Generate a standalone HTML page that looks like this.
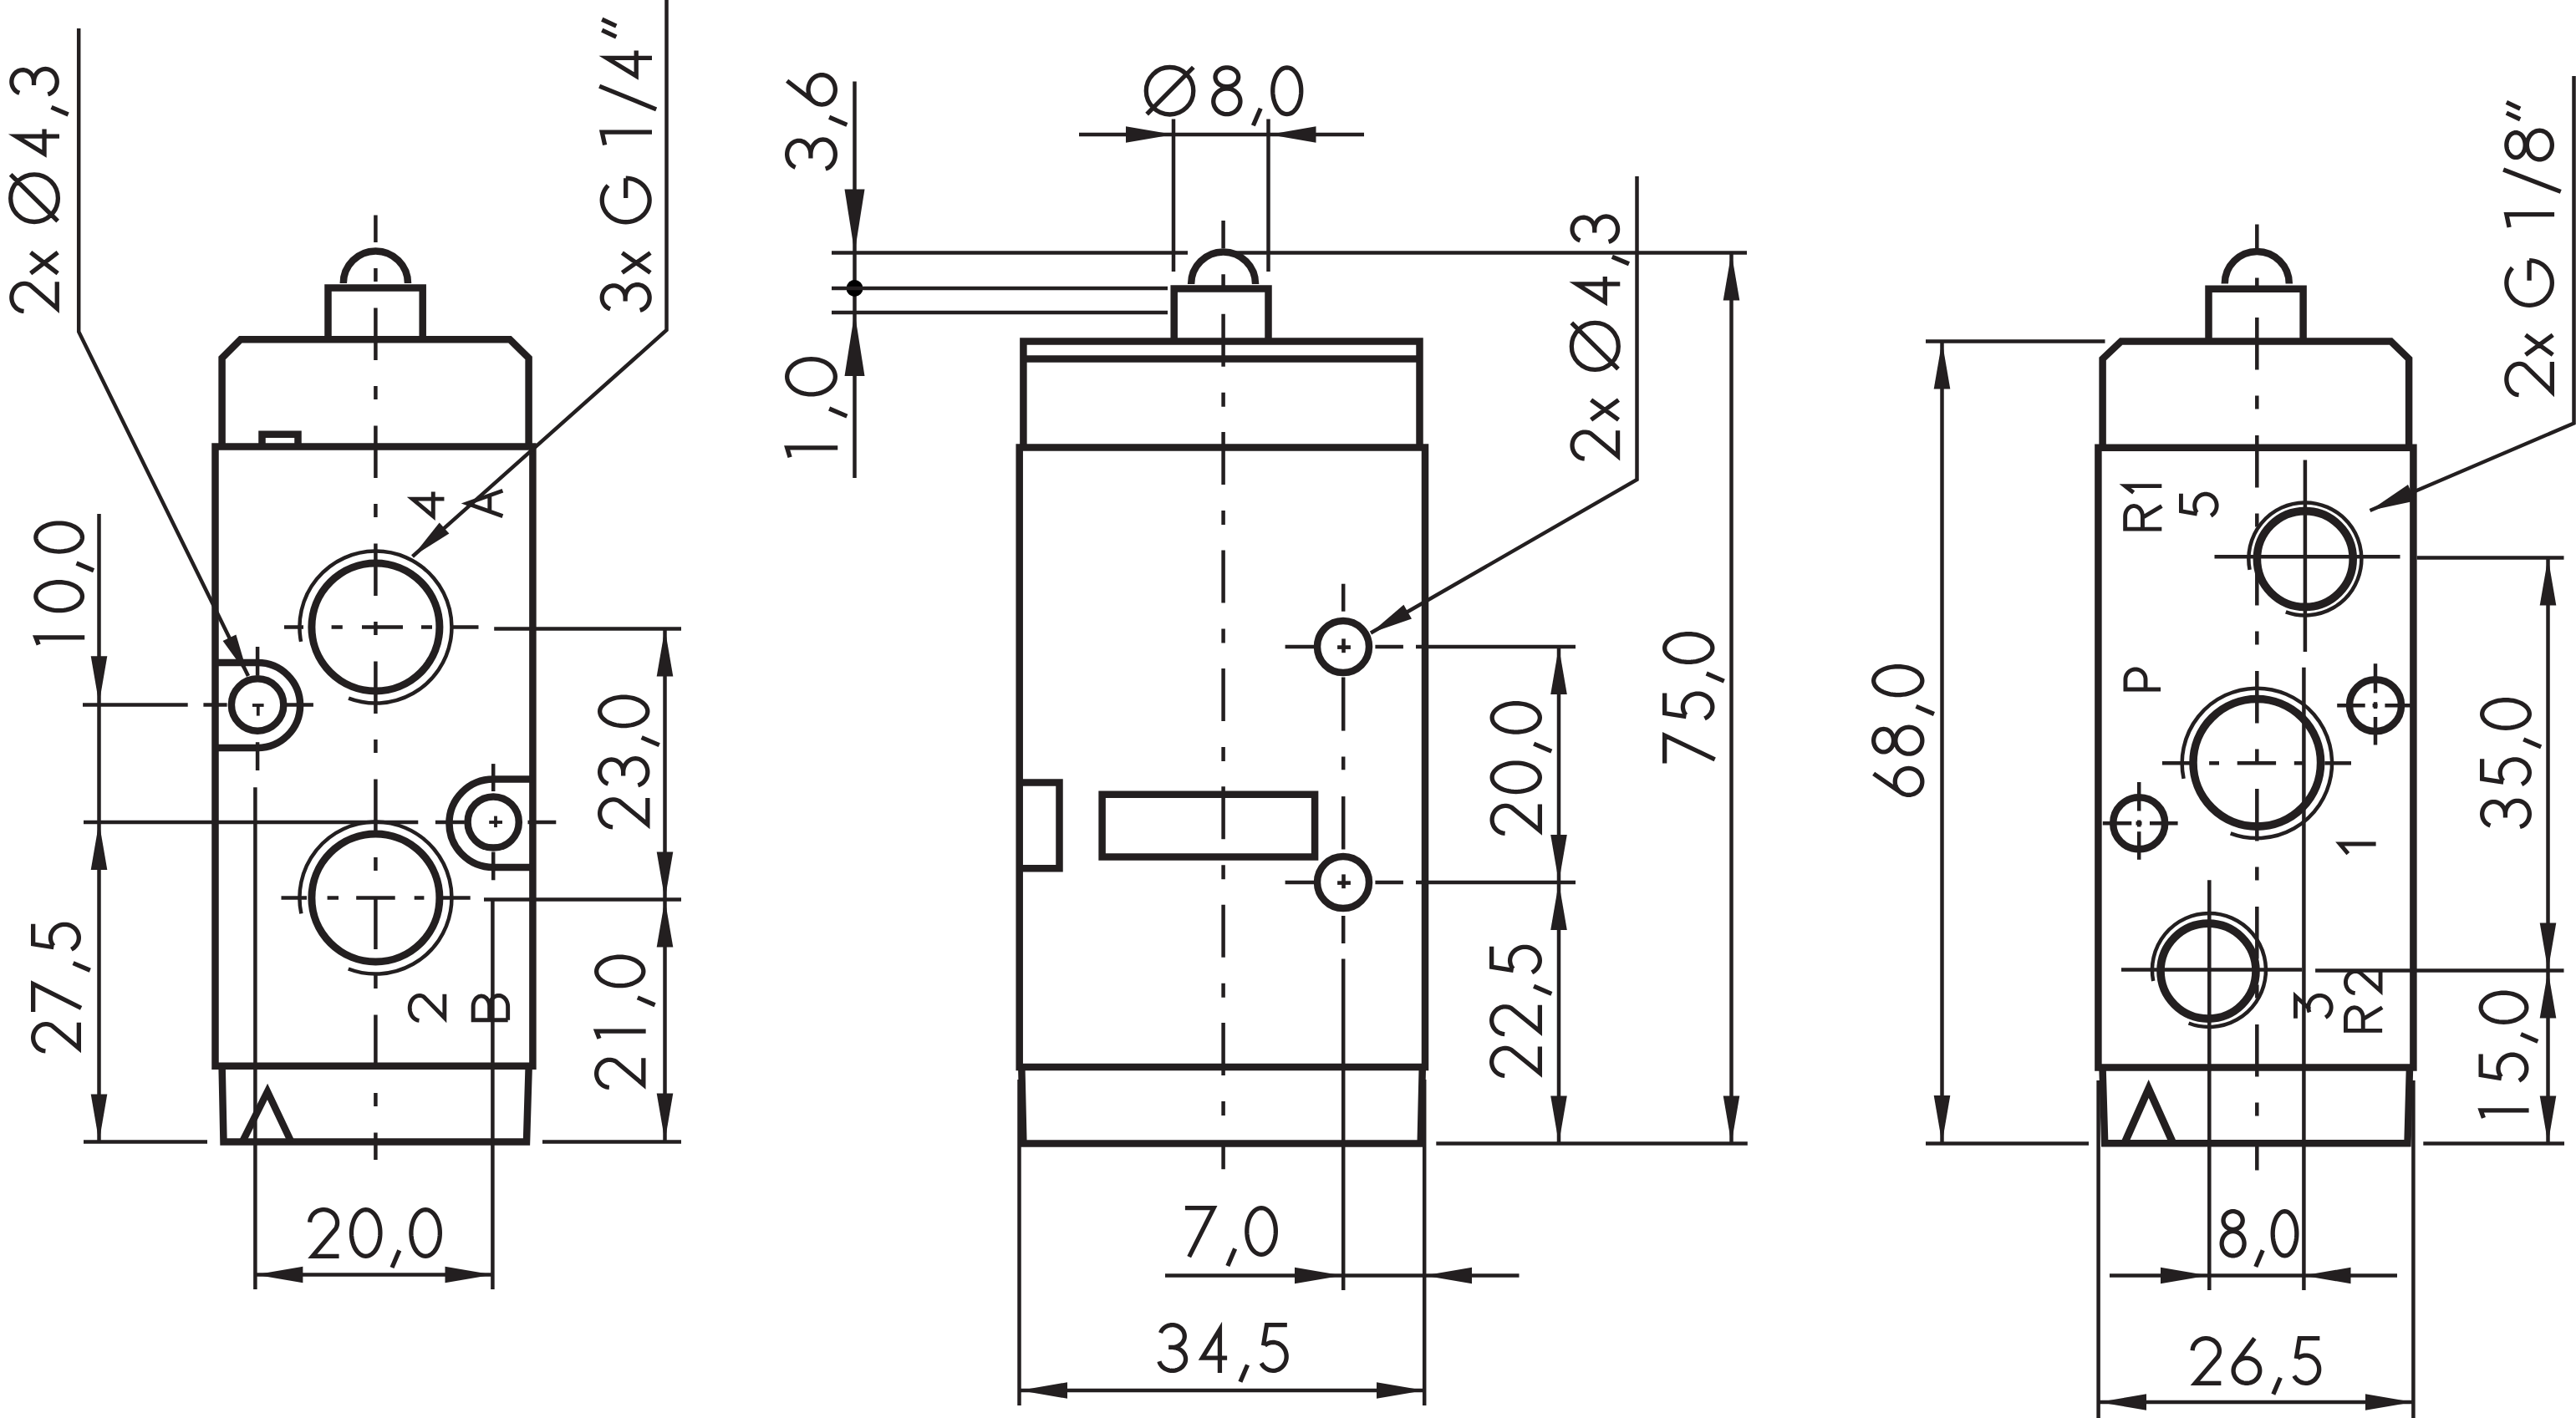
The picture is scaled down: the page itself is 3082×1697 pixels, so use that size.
<!DOCTYPE html>
<html><head><meta charset="utf-8"><style>
html,body{margin:0;padding:0;background:#fff;overflow:hidden;}
svg{display:block;}

</style></head><body>
<svg width="3082" height="1697" viewBox="0 0 3082 1697">
<rect width="3082" height="1697" fill="#fff"/>
<g fill="none" stroke="#231f20" stroke-linecap="butt" stroke-linejoin="miter" stroke-miterlimit="6">
<g transform="translate(70.90,0) rotate(-90)">
<path d="M-372.44,-42.35L-372.29,-43.95L-371.95,-45.53L-371.43,-47.07L-370.75,-48.55L-369.89,-49.96L-368.88,-51.27L-367.72,-52.48L-366.43,-53.57L-365.03,-54.52L-363.52,-55.34L-361.93,-56.00L-360.27,-56.51L-358.56,-56.85L-356.82,-57.03L-355.07,-57.03L-353.33,-56.86L-351.62,-56.53L-349.95,-56.03L-348.36,-55.38L-346.84,-54.57L-345.43,-53.62L-344.14,-52.53L-342.97,-51.33L-341.96,-50.02L-341.09,-48.62L-340.40,-47.15L-339.87,-45.61L-339.53,-44.03L-339.36,-42.43L-339.39,-40.82L-339.59,-39.22L-339.98,-37.65L-340.55,-36.13L-341.29,-34.67L-369.14,-2.65L-337.36,-2.65M-327.15,-34.27L-302.15,-1.73M-302.15,-34.27L-327.15,-1.73M-208.80,-29.85A28.35,28.35 0 1 1 -265.50,-29.85A28.35,28.35 0 1 1 -208.80,-29.85ZM-264.65,-1.78L-208.80,-58.20M-163.16,0.07L-163.16,-51.61L-183.90,-17.88L-154.55,-17.88M-128.34,-9.40L-136.96,10.77M-111.30,-47.62L-110.80,-48.93L-110.15,-50.19L-109.36,-51.38L-108.44,-52.48L-107.41,-53.49L-106.27,-54.39L-105.04,-55.17L-103.73,-55.82L-102.35,-56.34L-100.92,-56.72L-99.46,-56.96L-97.98,-57.05L-96.49,-56.99L-95.02,-56.79L-93.59,-56.44L-92.20,-55.96L-90.87,-55.33L-89.61,-54.58L-88.45,-53.71L-87.39,-52.73L-86.45,-51.65L-85.63,-50.48L-84.94,-49.24L-84.40,-47.94L-84.01,-46.59L-83.77,-45.20L-83.68,-43.81L-83.75,-42.41L-83.97,-41.02L-84.35,-39.67L-84.87,-38.36L-85.54,-37.11L-86.34,-35.93L-87.27,-34.84L-88.32,-33.84L-89.47,-32.96L-90.71,-32.19L-92.03,-31.56L-93.42,-31.05L-94.85,-30.69L-96.32,-30.47L-97.80,-30.39L-102.10,-30.39M-97.80,-30.39L-96.20,-30.32L-94.61,-30.09L-93.06,-29.72L-91.56,-29.19L-90.12,-28.54L-88.78,-27.74L-87.53,-26.83L-86.39,-25.80L-85.38,-24.68L-84.51,-23.46L-83.78,-22.16L-83.20,-20.81L-82.79,-19.41L-82.53,-17.97L-82.45,-16.52L-82.53,-15.07L-82.79,-13.64L-83.20,-12.24L-83.78,-10.88L-84.51,-9.59L-85.38,-8.37L-86.39,-7.24L-87.53,-6.21L-88.78,-5.30L-90.12,-4.51L-91.56,-3.85L-93.06,-3.33L-94.61,-2.95L-96.20,-2.73L-97.80,-2.65L-99.40,-2.73L-100.99,-2.95L-102.54,-3.33L-104.04,-3.85L-105.47,-4.51L-106.82,-5.30L-108.07,-6.21L-109.21,-7.24L-110.22,-8.37L-111.09,-9.59L-111.82,-10.88L-112.40,-12.24L-112.81,-13.64" stroke-width="5.3"/>
</g>
<g transform="translate(779.80,0) rotate(-90)">
<path d="M-369.79,-49.69L-369.27,-51.06L-368.62,-52.38L-367.82,-53.62L-366.90,-54.77L-365.85,-55.82L-364.70,-56.76L-363.46,-57.58L-362.13,-58.26L-360.74,-58.81L-359.30,-59.21L-357.82,-59.45L-356.33,-59.55L-354.83,-59.49L-353.35,-59.28L-351.90,-58.92L-350.49,-58.41L-349.15,-57.75L-347.88,-56.97L-346.71,-56.06L-345.64,-55.03L-344.69,-53.90L-343.86,-52.68L-343.17,-51.38L-342.62,-50.02L-342.22,-48.60L-341.98,-47.16L-341.89,-45.70L-341.96,-44.23L-342.19,-42.78L-342.57,-41.37L-343.10,-40.00L-343.77,-38.69L-344.58,-37.46L-345.52,-36.32L-346.58,-35.28L-347.74,-34.35L-348.99,-33.55L-350.33,-32.88L-351.73,-32.36L-353.17,-31.98L-354.65,-31.75L-356.15,-31.67L-360.49,-31.67M-356.15,-31.67L-354.53,-31.59L-352.93,-31.35L-351.36,-30.96L-349.85,-30.41L-348.40,-29.73L-347.04,-28.90L-345.78,-27.94L-344.63,-26.87L-343.61,-25.69L-342.73,-24.41L-341.99,-23.06L-341.41,-21.64L-340.99,-20.18L-340.73,-18.68L-340.65,-17.16L-340.73,-15.64L-340.99,-14.14L-341.41,-12.68L-341.99,-11.26L-342.73,-9.90L-343.61,-8.63L-344.63,-7.45L-345.78,-6.38L-347.04,-5.42L-348.40,-4.59L-349.85,-3.90L-351.36,-3.36L-352.93,-2.97L-354.53,-2.73L-356.15,-2.65L-357.77,-2.73L-359.37,-2.97L-360.94,-3.36L-362.45,-3.90L-363.90,-4.59L-365.26,-5.42L-366.52,-6.38L-367.67,-7.45L-368.69,-8.63L-369.57,-9.90L-370.31,-11.26L-370.89,-12.68L-371.31,-14.14M-326.35,-35.40L-302.65,-1.70M-302.65,-35.40L-326.35,-1.70M-213.25,-31.10L-213.39,-28.13L-213.82,-25.18L-214.53,-22.31L-215.52,-19.53L-216.77,-16.87L-218.26,-14.38L-219.99,-12.06L-221.94,-9.96L-224.07,-8.08L-226.38,-6.46L-228.82,-5.11L-231.39,-4.04L-234.04,-3.27L-236.76,-2.81L-239.50,-2.65L-242.24,-2.81L-244.96,-3.27L-247.61,-4.04L-250.18,-5.11L-252.62,-6.46L-254.93,-8.08L-257.06,-9.96L-259.01,-12.06L-260.74,-14.38L-262.23,-16.87L-263.48,-19.53L-264.47,-22.31L-265.18,-25.18L-265.61,-28.13L-265.75,-31.10L-265.61,-34.07L-265.18,-37.02L-264.47,-39.89L-263.48,-42.67L-262.23,-45.32L-260.74,-47.82L-259.01,-50.14L-257.06,-52.24L-254.93,-54.12L-252.63,-55.74L-250.18,-57.09L-247.61,-58.16L-244.96,-58.93L-242.24,-59.39L-239.50,-59.55L-236.76,-59.39L-234.04,-58.93L-231.39,-58.16L-228.82,-57.09L-226.38,-55.74L-224.07,-54.12L-221.94,-52.24M-213.25,-31.10L-236.88,-31.10M-158.15,0.20L-158.15,-59.55L-173.55,-56.14M-130.85,5.37L-103.15,-62.67M-69.41,0.20L-69.41,-53.86L-90.99,-18.58L-60.45,-18.58M-23.25,-59.55L-31.19,-42.48M-36.21,-59.55L-44.15,-42.48" stroke-width="5.3"/>
</g>
<g transform="translate(101.10,0) rotate(-90)">
<path d="M-762.92,0.13L-762.92,-58.25L-771.55,-54.91M-696.68,-30.45L-696.77,-27.54L-697.05,-24.67L-697.51,-21.86L-698.14,-19.14L-698.95,-16.55L-699.92,-14.11L-701.04,-11.85L-702.30,-9.79L-703.68,-7.96L-705.17,-6.37L-706.76,-5.05L-708.42,-4.01L-710.14,-3.26L-711.89,-2.80L-713.67,-2.65L-715.45,-2.80L-717.20,-3.26L-718.92,-4.01L-720.58,-5.05L-722.17,-6.37L-723.66,-7.96L-725.04,-9.79L-726.30,-11.85L-727.42,-14.11L-728.39,-16.55L-729.20,-19.14L-729.84,-21.86L-730.30,-24.67L-730.57,-27.54L-730.67,-30.45L-730.57,-33.36L-730.30,-36.23L-729.84,-39.04L-729.20,-41.76L-728.39,-44.35L-727.42,-46.79L-726.30,-49.05L-725.04,-51.11L-723.66,-52.94L-722.17,-54.53L-720.58,-55.85L-718.92,-56.89L-717.20,-57.64L-715.45,-58.10L-713.67,-58.25L-711.89,-58.10L-710.14,-57.64L-708.42,-56.89L-706.76,-55.85L-705.17,-54.53L-703.68,-52.94L-702.30,-51.11L-701.04,-49.05L-699.92,-46.79L-698.95,-44.35L-698.14,-41.76L-697.51,-39.04L-697.05,-36.23L-696.77,-33.36L-696.68,-30.45ZM-673.97,-9.58L-682.75,10.98M-626.05,-30.45L-626.14,-27.54L-626.42,-24.67L-626.88,-21.86L-627.52,-19.14L-628.33,-16.55L-629.30,-14.11L-630.42,-11.85L-631.67,-9.79L-633.06,-7.96L-634.55,-6.37L-636.13,-5.05L-637.79,-4.01L-639.51,-3.26L-641.27,-2.80L-643.05,-2.65L-644.82,-2.80L-646.58,-3.26L-648.30,-4.01L-649.96,-5.05L-651.54,-6.37L-653.04,-7.96L-654.42,-9.79L-655.68,-11.85L-656.80,-14.11L-657.76,-16.55L-658.57,-19.14L-659.21,-21.86L-659.67,-24.67L-659.95,-27.54L-660.04,-30.45L-659.95,-33.36L-659.67,-36.23L-659.21,-39.04L-658.57,-41.76L-657.76,-44.35L-656.80,-46.79L-655.68,-49.05L-654.42,-51.11L-653.04,-52.94L-651.54,-54.53L-649.96,-55.85L-648.30,-56.89L-646.58,-57.64L-644.82,-58.10L-643.05,-58.25L-641.27,-58.10L-639.51,-57.64L-637.79,-56.89L-636.13,-55.85L-634.55,-54.53L-633.06,-52.94L-631.67,-51.11L-630.42,-49.05L-629.30,-46.79L-628.33,-44.35L-627.52,-41.76L-626.88,-39.04L-626.42,-36.23L-626.14,-33.36L-626.05,-30.45Z" stroke-width="5.3"/>
</g>
<g transform="translate(97.00,0) rotate(-90)">
<path d="M-1257.84,-42.57L-1257.69,-44.18L-1257.36,-45.77L-1256.86,-47.32L-1256.19,-48.80L-1255.35,-50.22L-1254.37,-51.54L-1253.24,-52.75L-1251.98,-53.85L-1250.61,-54.81L-1249.14,-55.63L-1247.59,-56.30L-1245.97,-56.81L-1244.30,-57.15L-1242.61,-57.33L-1240.90,-57.33L-1239.21,-57.16L-1237.54,-56.83L-1235.92,-56.33L-1234.36,-55.67L-1232.89,-54.85L-1231.51,-53.90L-1230.25,-52.81L-1229.11,-51.60L-1228.12,-50.28L-1227.28,-48.88L-1226.60,-47.39L-1226.09,-45.85L-1225.75,-44.26L-1225.59,-42.65L-1225.61,-41.03L-1225.82,-39.42L-1226.20,-37.84L-1226.75,-36.31L-1227.47,-34.84L-1254.62,-2.65L-1223.64,-2.65M-1211.10,-57.35L-1177.63,-57.35L-1206.41,0.09M-1152.61,-9.44L-1161.26,10.82M-1105.65,-57.35L-1129.78,-57.35L-1133.75,-32.73M-1131.95,-32.97L-1130.57,-34.00L-1129.09,-34.87L-1127.54,-35.57L-1125.93,-36.08L-1124.27,-36.42L-1122.59,-36.56L-1120.91,-36.51L-1119.24,-36.27L-1117.60,-35.84L-1116.01,-35.23L-1114.50,-34.44L-1113.07,-33.49L-1111.74,-32.38L-1110.53,-31.12L-1109.46,-29.74L-1108.52,-28.24L-1107.74,-26.64L-1107.13,-24.97L-1106.68,-23.23L-1106.41,-21.46L-1106.31,-19.66L-1106.40,-17.86L-1106.66,-16.08L-1107.10,-14.34L-1107.70,-12.66L-1108.47,-11.06L-1109.40,-9.56L-1110.47,-8.17L-1111.67,-6.90L-1112.99,-5.78L-1114.41,-4.82L-1115.92,-4.02L-1117.51,-3.40L-1119.14,-2.96L-1120.81,-2.71L-1122.49,-2.65L-1124.17,-2.78L-1125.83,-3.11L-1127.45,-3.61L-1129.01,-4.30L-1130.49,-5.16L-1131.87,-6.18L-1133.15,-7.36L-1134.31,-8.67L-1135.32,-10.10L-1136.19,-11.65" stroke-width="5.3"/>
</g>
<g transform="translate(777.50,0) rotate(-90)">
<path d="M-989.84,-44.39L-989.69,-46.08L-989.35,-47.74L-988.84,-49.36L-988.15,-50.91L-987.30,-52.39L-986.30,-53.77L-985.15,-55.04L-983.86,-56.19L-982.46,-57.19L-980.96,-58.05L-979.38,-58.75L-977.73,-59.28L-976.02,-59.64L-974.29,-59.83L-972.55,-59.83L-970.82,-59.66L-969.12,-59.30L-967.46,-58.78L-965.87,-58.09L-964.37,-57.24L-962.96,-56.24L-961.68,-55.10L-960.52,-53.84L-959.51,-52.46L-958.65,-50.99L-957.95,-49.44L-957.43,-47.82L-957.09,-46.16L-956.93,-44.48L-956.95,-42.78L-957.15,-41.10L-957.54,-39.45L-958.11,-37.85L-958.84,-36.31L-986.56,-2.65L-954.94,-2.65M-938.10,-49.93L-937.56,-51.32L-936.88,-52.64L-936.05,-53.89L-935.08,-55.05L-933.99,-56.11L-932.80,-57.05L-931.50,-57.87L-930.11,-58.56L-928.66,-59.10L-927.16,-59.50L-925.62,-59.75L-924.06,-59.85L-922.50,-59.79L-920.95,-59.58L-919.44,-59.21L-917.97,-58.70L-916.57,-58.04L-915.25,-57.26L-914.03,-56.34L-912.91,-55.31L-911.92,-54.17L-911.06,-52.94L-910.33,-51.64L-909.76,-50.27L-909.35,-48.85L-909.09,-47.39L-909.00,-45.92L-909.07,-44.45L-909.31,-43.00L-909.71,-41.57L-910.26,-40.19L-910.96,-38.88L-911.81,-37.64L-912.79,-36.49L-913.89,-35.45L-915.10,-34.52L-916.41,-33.71L-917.80,-33.04L-919.26,-32.51L-920.77,-32.13L-922.31,-31.90L-923.87,-31.82L-928.40,-31.82M-923.87,-31.82L-922.18,-31.74L-920.51,-31.50L-918.88,-31.11L-917.30,-30.56L-915.79,-29.87L-914.37,-29.04L-913.06,-28.08L-911.86,-27.00L-910.79,-25.81L-909.87,-24.53L-909.10,-23.17L-908.50,-21.74L-908.06,-20.27L-907.80,-18.76L-907.71,-17.24L-907.80,-15.71L-908.06,-14.20L-908.50,-12.73L-909.10,-11.30L-909.87,-9.94L-910.79,-8.66L-911.86,-7.48L-913.06,-6.40L-914.37,-5.44L-915.79,-4.60L-917.30,-3.91L-918.88,-3.36L-920.51,-2.97L-922.18,-2.73L-923.87,-2.65L-925.56,-2.73L-927.24,-2.97L-928.87,-3.36L-930.45,-3.91L-931.96,-4.60L-933.38,-5.44L-934.69,-6.40L-935.89,-7.48L-936.95,-8.66L-937.87,-9.94L-938.64,-11.30L-939.25,-12.73L-939.69,-14.20M-882.59,-9.84L-891.60,11.27M-834.15,-31.25L-834.24,-28.26L-834.53,-25.30L-834.99,-22.41L-835.64,-19.62L-836.46,-16.95L-837.44,-14.44L-838.57,-12.11L-839.85,-10.00L-841.25,-8.11L-842.76,-6.48L-844.37,-5.12L-846.05,-4.05L-847.79,-3.27L-849.57,-2.81L-851.37,-2.65L-853.17,-2.81L-854.95,-3.27L-856.70,-4.05L-858.38,-5.12L-859.99,-6.48L-861.50,-8.11L-862.90,-10.00L-864.17,-12.11L-865.31,-14.44L-866.29,-16.95L-867.11,-19.62L-867.75,-22.41L-868.22,-25.30L-868.50,-28.26L-868.60,-31.25L-868.50,-34.24L-868.22,-37.20L-867.75,-40.09L-867.11,-42.88L-866.29,-45.55L-865.31,-48.06L-864.17,-50.39L-862.90,-52.50L-861.50,-54.39L-859.99,-56.02L-858.38,-57.38L-856.70,-58.45L-854.95,-59.23L-853.17,-59.69L-851.37,-59.85L-849.57,-59.69L-847.79,-59.23L-846.05,-58.45L-844.37,-57.38L-842.76,-56.02L-841.25,-54.39L-839.85,-52.50L-838.57,-50.39L-837.44,-48.06L-836.46,-45.55L-835.64,-42.88L-834.99,-40.09L-834.53,-37.20L-834.24,-34.24L-834.15,-31.25Z" stroke-width="5.3"/>
</g>
<g transform="translate(772.50,0) rotate(-90)">
<path d="M-1301.34,-43.66L-1301.19,-45.32L-1300.85,-46.95L-1300.34,-48.54L-1299.65,-50.07L-1298.79,-51.52L-1297.78,-52.88L-1296.63,-54.13L-1295.34,-55.25L-1293.94,-56.24L-1292.43,-57.08L-1290.84,-57.77L-1289.18,-58.29L-1287.47,-58.65L-1285.74,-58.83L-1283.99,-58.83L-1282.25,-58.66L-1280.54,-58.31L-1278.88,-57.80L-1277.29,-57.12L-1275.78,-56.28L-1274.37,-55.30L-1273.07,-54.18L-1271.91,-52.94L-1270.90,-51.59L-1270.03,-50.14L-1269.34,-48.62L-1268.81,-47.03L-1268.47,-45.40L-1268.31,-43.74L-1268.33,-42.08L-1268.54,-40.43L-1268.92,-38.81L-1269.49,-37.23L-1270.23,-35.73L-1298.04,-2.65L-1266.31,-2.65M-1234.08,0.16L-1234.08,-58.85L-1242.91,-55.48M-1193.83,-9.68L-1202.70,11.09M-1145.15,-30.75L-1145.24,-27.81L-1145.53,-24.91L-1146.00,-22.07L-1146.64,-19.32L-1147.47,-16.70L-1148.45,-14.23L-1149.59,-11.95L-1150.87,-9.87L-1152.28,-8.02L-1153.79,-6.41L-1155.40,-5.08L-1157.09,-4.03L-1158.84,-3.26L-1160.63,-2.80L-1162.44,-2.65L-1164.24,-2.80L-1166.03,-3.26L-1167.78,-4.03L-1169.47,-5.08L-1171.08,-6.41L-1172.60,-8.02L-1174.00,-9.87L-1175.28,-11.95L-1176.42,-14.23L-1177.40,-16.70L-1178.23,-19.32L-1178.87,-22.07L-1179.34,-24.91L-1179.63,-27.81L-1179.72,-30.75L-1179.63,-33.69L-1179.34,-36.59L-1178.87,-39.43L-1178.23,-42.18L-1177.40,-44.80L-1176.42,-47.27L-1175.28,-49.55L-1174.00,-51.63L-1172.60,-53.48L-1171.08,-55.09L-1169.47,-56.42L-1167.78,-57.47L-1166.03,-58.24L-1164.24,-58.70L-1162.44,-58.85L-1160.63,-58.70L-1158.84,-58.24L-1157.09,-57.47L-1155.40,-56.42L-1153.79,-55.09L-1152.28,-53.48L-1150.87,-51.63L-1149.59,-49.55L-1148.45,-47.27L-1147.47,-44.80L-1146.64,-42.18L-1146.00,-39.43L-1145.53,-36.59L-1145.24,-33.69L-1145.15,-30.75Z" stroke-width="5.3"/>
</g>
<g transform="translate(0,1506.00)">
<path d="M370.66,-43.30L370.81,-44.94L371.15,-46.56L371.66,-48.13L372.35,-49.65L373.20,-51.09L374.20,-52.43L375.35,-53.67L376.64,-54.78L378.04,-55.76L379.54,-56.60L381.12,-57.28L382.77,-57.80L384.48,-58.15L386.21,-58.33L387.95,-58.33L389.68,-58.16L391.38,-57.82L393.04,-57.31L394.63,-56.64L396.13,-55.81L397.54,-54.83L398.82,-53.73L399.98,-52.49L400.99,-51.15L401.85,-49.72L402.55,-48.21L403.07,-46.64L403.41,-45.02L403.57,-43.38L403.55,-41.73L403.35,-40.09L402.96,-38.49L402.39,-36.93L401.66,-35.43L373.94,-2.65L405.56,-2.65M454.91,-30.50L454.81,-27.59L454.53,-24.71L454.06,-21.89L453.42,-19.17L452.60,-16.57L451.62,-14.13L450.48,-11.86L449.21,-9.80L447.81,-7.97L446.29,-6.38L444.69,-5.06L443.01,-4.01L441.26,-3.26L439.48,-2.80L437.68,-2.65L435.88,-2.80L434.10,-3.26L432.36,-4.01L430.68,-5.06L429.07,-6.38L427.56,-7.97L426.16,-9.80L424.88,-11.86L423.75,-14.13L422.77,-16.57L421.95,-19.17L421.30,-21.89L420.84,-24.71L420.55,-27.59L420.46,-30.50L420.55,-33.41L420.84,-36.29L421.30,-39.11L421.95,-41.83L422.77,-44.43L423.75,-46.87L424.88,-49.14L426.16,-51.20L427.56,-53.03L429.07,-54.62L430.68,-55.94L432.36,-56.99L434.10,-57.74L435.88,-58.20L437.68,-58.35L439.48,-58.20L441.26,-57.74L443.01,-56.99L444.69,-55.94L446.29,-54.62L447.81,-53.03L449.21,-51.20L450.48,-49.14L451.62,-46.87L452.60,-44.43L453.42,-41.83L454.06,-39.11L454.53,-36.29L454.81,-33.41L454.91,-30.50ZM477.80,-9.60L469.00,11.00M526.35,-30.50L526.26,-27.59L525.97,-24.71L525.51,-21.89L524.86,-19.17L524.04,-16.57L523.06,-14.13L521.93,-11.86L520.65,-9.80L519.25,-7.97L517.74,-6.38L516.13,-5.06L514.45,-4.01L512.71,-3.26L510.93,-2.80L509.13,-2.65L507.33,-2.80L505.55,-3.26L503.80,-4.01L502.12,-5.06L500.51,-6.38L499.00,-7.97L497.60,-9.80L496.33,-11.86L495.19,-14.13L494.21,-16.57L493.39,-19.17L492.75,-21.89L492.28,-24.71L492.00,-27.59L491.90,-30.50L492.00,-33.41L492.28,-36.29L492.75,-39.11L493.39,-41.83L494.21,-44.43L495.19,-46.87L496.33,-49.14L497.60,-51.20L499.00,-53.03L500.51,-54.62L502.12,-55.94L503.80,-56.99L505.55,-57.74L507.33,-58.20L509.13,-58.35L510.93,-58.20L512.71,-57.74L514.45,-56.99L516.13,-55.94L517.74,-54.62L519.25,-53.03L520.65,-51.20L521.93,-49.14L523.06,-46.87L524.04,-44.43L524.86,-41.83L525.51,-39.11L525.97,-36.29L526.26,-33.41L526.35,-30.50Z" stroke-width="5.3"/>
</g>
<g transform="translate(531.90,0) rotate(-90)">
<path d="M-597.14,-0.45L-597.14,-38.36L-617.81,-13.62L-588.55,-13.62" stroke-width="4.9"/>
</g>
<g transform="translate(601.70,0) rotate(-90)">
<path d="M-617.62,-0.28L-602.45,-42.72L-587.28,-0.28M-612.88,-15.87L-592.02,-15.87" stroke-width="4.9"/>
</g>
<g transform="translate(534.30,0) rotate(-90)">
<path d="M-1221.24,-32.81L-1221.10,-34.03L-1220.80,-35.24L-1220.34,-36.42L-1219.72,-37.55L-1218.95,-38.63L-1218.03,-39.63L-1216.99,-40.55L-1215.83,-41.39L-1214.57,-42.12L-1213.21,-42.74L-1211.78,-43.25L-1210.28,-43.64L-1208.74,-43.90L-1207.18,-44.03L-1205.60,-44.04L-1204.03,-43.91L-1202.49,-43.65L-1201.00,-43.27L-1199.56,-42.77L-1198.20,-42.15L-1196.93,-41.42L-1195.76,-40.60L-1194.71,-39.68L-1193.80,-38.68L-1193.02,-37.60L-1192.39,-36.48L-1191.92,-35.30L-1191.61,-34.09L-1191.46,-32.87L-1191.48,-31.64L-1191.67,-30.41L-1192.02,-29.21L-1192.53,-28.05L-1193.19,-26.93L-1218.27,-2.45L-1189.66,-2.45" stroke-width="4.9"/>
</g>
<g transform="translate(610.10,0) rotate(-90)">
<path d="M-1220.75,-2.45L-1220.75,-43.95L-1204.34,-43.95L-1204.34,-43.95L-1203.06,-43.90L-1201.78,-43.74L-1200.54,-43.47L-1199.34,-43.11L-1198.19,-42.64L-1197.11,-42.09L-1196.11,-41.45L-1195.20,-40.72L-1194.39,-39.93L-1193.68,-39.07L-1193.10,-38.16L-1192.64,-37.21L-1192.30,-36.23L-1192.10,-35.22L-1192.04,-34.20L-1192.10,-33.18L-1192.30,-32.17L-1192.64,-31.18L-1193.10,-30.23L-1193.68,-29.32L-1194.39,-28.47L-1195.20,-27.67L-1196.11,-26.95L-1197.11,-26.31L-1198.19,-25.75L-1199.34,-25.29L-1200.54,-24.92L-1201.78,-24.66L-1203.06,-24.50L-1204.34,-24.44L-1220.75,-24.44M-1204.63,-24.44L-1204.63,-24.44L-1203.26,-24.38L-1201.89,-24.20L-1200.56,-23.91L-1199.27,-23.49L-1198.04,-22.97L-1196.89,-22.34L-1195.81,-21.62L-1194.84,-20.81L-1193.97,-19.91L-1193.22,-18.95L-1192.59,-17.92L-1192.10,-16.85L-1191.74,-15.73L-1191.52,-14.60L-1191.45,-13.45L-1191.52,-12.30L-1191.74,-11.16L-1192.10,-10.05L-1192.59,-8.97L-1193.22,-7.95L-1193.97,-6.98L-1194.84,-6.09L-1195.81,-5.27L-1196.89,-4.55L-1198.04,-3.92L-1199.27,-3.40L-1200.56,-2.99L-1201.89,-2.69L-1203.26,-2.51L-1204.63,-2.45L-1220.75,-2.45" stroke-width="4.9"/>
</g>
<g transform="translate(1002.00,0) rotate(-90)">
<path d="M-200.22,-50.35L-199.64,-51.74L-198.88,-53.08L-197.98,-54.34L-196.92,-55.51L-195.73,-56.57L-194.41,-57.52L-192.99,-58.35L-191.48,-59.05L-189.89,-59.60L-188.24,-60.00L-186.56,-60.25L-184.85,-60.35L-183.14,-60.29L-181.44,-60.07L-179.78,-59.71L-178.18,-59.19L-176.65,-58.53L-175.20,-57.73L-173.86,-56.81L-172.64,-55.77L-171.55,-54.62L-170.60,-53.38L-169.82,-52.07L-169.19,-50.68L-168.73,-49.25L-168.46,-47.78L-168.35,-46.30L-168.43,-44.82L-168.69,-43.35L-169.13,-41.91L-169.73,-40.52L-170.50,-39.20L-171.43,-37.95L-172.50,-36.79L-173.71,-35.74L-175.04,-34.80L-176.47,-33.99L-177.99,-33.31L-179.59,-32.77L-181.24,-32.39L-182.93,-32.16L-184.64,-32.08L-189.60,-32.08M-184.64,-32.08L-182.79,-32.00L-180.96,-31.76L-179.17,-31.36L-177.44,-30.80L-175.79,-30.11L-174.24,-29.27L-172.80,-28.30L-171.49,-27.21L-170.32,-26.01L-169.31,-24.72L-168.47,-23.35L-167.80,-21.91L-167.32,-20.42L-167.03,-18.90L-166.94,-17.36L-167.03,-15.83L-167.32,-14.30L-167.80,-12.82L-168.47,-11.38L-169.31,-10.01L-170.32,-8.72L-171.49,-7.52L-172.80,-6.43L-174.24,-5.46L-175.79,-4.62L-177.44,-3.92L-179.17,-3.37L-180.96,-2.97L-182.79,-2.73L-184.64,-2.65L-186.49,-2.73L-188.33,-2.97L-190.12,-3.37L-191.85,-3.92L-193.50,-4.62L-195.05,-5.46L-196.49,-6.43L-197.80,-7.52L-198.97,-8.72L-199.98,-10.01L-200.82,-11.38L-201.48,-12.82L-201.96,-14.30M-140.31,-9.91L-149.40,11.36M-96.73,-60.35L-121.79,-28.16M-89.65,-18.81L-89.75,-17.12L-90.04,-15.45L-90.52,-13.81L-91.18,-12.23L-92.02,-10.73L-93.03,-9.31L-94.20,-8.00L-95.51,-6.80L-96.95,-5.74L-98.50,-4.81L-100.15,-4.05L-101.88,-3.44L-103.67,-3.00L-105.51,-2.74L-107.36,-2.65L-109.21,-2.74L-111.04,-3.00L-112.83,-3.44L-114.56,-4.05L-116.21,-4.81L-117.76,-5.74L-119.20,-6.80L-120.51,-8.00L-121.68,-9.31L-122.69,-10.73L-123.53,-12.23L-124.20,-13.81L-124.68,-15.45L-124.97,-17.12L-125.06,-18.81L-124.97,-20.49L-124.68,-22.17L-124.20,-23.80L-123.53,-25.38L-122.69,-26.88L-121.68,-28.30L-120.51,-29.62L-119.20,-30.81L-117.76,-31.88L-116.21,-32.80L-114.56,-33.57L-112.83,-34.17L-111.04,-34.61L-109.21,-34.87L-107.36,-34.96L-105.51,-34.87L-103.67,-34.61L-101.88,-34.17L-100.15,-33.57L-98.50,-32.80L-96.95,-31.88L-95.51,-30.81L-94.20,-29.62L-93.03,-28.30L-92.02,-26.88L-91.18,-25.38L-90.52,-23.80L-90.04,-22.17L-89.75,-20.49L-89.65,-18.81Z" stroke-width="5.3"/>
</g>
<g transform="translate(1002.00,0) rotate(-90)">
<path d="M-535.78,0.24L-535.78,-60.35L-547.35,-56.89M-489.02,-9.91L-498.10,11.36M-429.65,-31.50L-429.77,-28.48L-430.11,-25.50L-430.68,-22.58L-431.48,-19.77L-432.48,-17.07L-433.69,-14.54L-435.08,-12.20L-436.65,-10.06L-438.37,-8.16L-440.22,-6.52L-442.19,-5.14L-444.26,-4.06L-446.40,-3.28L-448.58,-2.81L-450.79,-2.65L-453.00,-2.81L-455.19,-3.28L-457.33,-4.06L-459.39,-5.14L-461.36,-6.52L-463.22,-8.16L-464.94,-10.06L-466.51,-12.20L-467.90,-14.54L-469.10,-17.07L-470.11,-19.77L-470.90,-22.58L-471.47,-25.50L-471.82,-28.48L-471.94,-31.50L-471.82,-34.52L-471.47,-37.50L-470.90,-40.42L-470.11,-43.23L-469.10,-45.93L-467.90,-48.46L-466.51,-50.80L-464.94,-52.94L-463.22,-54.84L-461.36,-56.48L-459.39,-57.86L-457.33,-58.94L-455.19,-59.72L-453.00,-60.19L-450.79,-60.35L-448.58,-60.19L-446.40,-59.72L-444.26,-58.94L-442.19,-57.86L-440.22,-56.48L-438.37,-54.84L-436.65,-52.94L-435.08,-50.80L-433.69,-48.46L-432.48,-45.93L-431.48,-43.23L-430.68,-40.42L-430.11,-37.50L-429.77,-34.52L-429.65,-31.50Z" stroke-width="5.3"/>
</g>
<g transform="translate(0,139.30)">
<path d="M1427.80,-30.55A28.25,28.25 0 1 1 1371.30,-30.55A28.25,28.25 0 1 1 1427.80,-30.55ZM1372.15,-2.58L1427.80,-58.80M1481.70,-47.01L1481.62,-45.82L1481.39,-44.63L1481.02,-43.48L1480.50,-42.36L1479.84,-41.29L1479.05,-40.29L1478.14,-39.36L1477.11,-38.51L1475.99,-37.76L1474.77,-37.10L1473.48,-36.56L1472.13,-36.13L1470.73,-35.82L1469.30,-35.63L1467.85,-35.57L1466.40,-35.63L1464.97,-35.82L1463.57,-36.13L1462.22,-36.56L1460.93,-37.10L1459.71,-37.76L1458.59,-38.51L1457.56,-39.36L1456.65,-40.29L1455.86,-41.29L1455.20,-42.36L1454.68,-43.48L1454.31,-44.63L1454.08,-45.82L1454.00,-47.01L1454.08,-48.21L1454.31,-49.39L1454.68,-50.55L1455.20,-51.66L1455.86,-52.73L1456.65,-53.73L1457.56,-54.67L1458.59,-55.51L1459.71,-56.27L1460.93,-56.92L1462.22,-57.46L1463.57,-57.89L1464.97,-58.20L1466.40,-58.39L1467.85,-58.45L1469.30,-58.39L1470.73,-58.20L1472.13,-57.89L1473.48,-57.46L1474.77,-56.92L1475.99,-56.27L1477.11,-55.51L1478.14,-54.67L1479.05,-53.73L1479.84,-52.73L1480.50,-51.66L1481.02,-50.55L1481.39,-49.39L1481.62,-48.21L1481.70,-47.01ZM1483.95,-18.00L1483.86,-16.39L1483.60,-14.80L1483.16,-13.25L1482.56,-11.75L1481.79,-10.32L1480.88,-8.98L1479.81,-7.73L1478.62,-6.59L1477.31,-5.58L1475.90,-4.71L1474.40,-3.98L1472.83,-3.40L1471.20,-2.99L1469.53,-2.73L1467.85,-2.65L1466.17,-2.73L1464.50,-2.99L1462.87,-3.40L1461.30,-3.98L1459.80,-4.71L1458.39,-5.58L1457.08,-6.59L1455.89,-7.73L1454.82,-8.98L1453.91,-10.32L1453.14,-11.75L1452.54,-13.25L1452.10,-14.80L1451.84,-16.39L1451.75,-18.00L1451.84,-19.60L1452.10,-21.19L1452.54,-22.74L1453.14,-24.24L1453.91,-25.67L1454.82,-27.01L1455.89,-28.26L1457.08,-29.40L1458.39,-30.41L1459.80,-31.28L1461.30,-32.01L1462.87,-32.59L1464.50,-33.00L1466.17,-33.26L1467.85,-33.34L1469.53,-33.26L1471.20,-33.00L1472.83,-32.59L1474.40,-32.01L1475.90,-31.28L1477.31,-30.41L1478.62,-29.40L1479.81,-28.26L1480.88,-27.01L1481.79,-25.67L1482.56,-24.24L1483.16,-22.74L1483.60,-21.19L1483.86,-19.60L1483.95,-18.00ZM1508.21,-9.62L1499.39,11.02M1556.75,-30.55L1556.66,-27.63L1556.38,-24.75L1555.92,-21.93L1555.28,-19.20L1554.47,-16.60L1553.50,-14.15L1552.38,-11.88L1551.13,-9.82L1549.74,-7.98L1548.25,-6.39L1546.66,-5.06L1545.00,-4.02L1543.28,-3.26L1541.53,-2.80L1539.75,-2.65L1537.97,-2.80L1536.22,-3.26L1534.50,-4.02L1532.84,-5.06L1531.25,-6.39L1529.76,-7.98L1528.37,-9.82L1527.12,-11.88L1526.00,-14.15L1525.03,-16.60L1524.22,-19.20L1523.58,-21.93L1523.12,-24.75L1522.84,-27.63L1522.75,-30.55L1522.84,-33.47L1523.12,-36.35L1523.58,-39.17L1524.22,-41.90L1525.03,-44.50L1526.00,-46.95L1527.12,-49.22L1528.37,-51.28L1529.76,-53.12L1531.25,-54.71L1532.84,-56.04L1534.50,-57.08L1536.22,-57.84L1537.97,-58.30L1539.75,-58.45L1541.53,-58.30L1543.28,-57.84L1545.00,-57.08L1546.66,-56.04L1548.25,-54.71L1549.74,-53.12L1551.13,-51.28L1552.38,-49.22L1553.50,-46.95L1554.47,-44.50L1555.28,-41.90L1555.92,-39.17L1556.38,-36.35L1556.66,-33.47L1556.75,-30.55Z" stroke-width="5.3"/>
</g>
<g transform="translate(1938.20,0) rotate(-90)">
<path d="M-548.94,-42.42L-548.79,-44.03L-548.47,-45.61L-547.97,-47.15L-547.31,-48.64L-546.48,-50.04L-545.51,-51.36L-544.39,-52.57L-543.15,-53.66L-541.80,-54.62L-540.34,-55.44L-538.81,-56.10L-537.21,-56.61L-535.56,-56.95L-533.88,-57.13L-532.20,-57.13L-530.52,-56.96L-528.87,-56.63L-527.27,-56.13L-525.73,-55.47L-524.27,-54.66L-522.91,-53.71L-521.66,-52.62L-520.54,-51.42L-519.56,-50.11L-518.73,-48.71L-518.06,-47.23L-517.55,-45.69L-517.22,-44.11L-517.06,-42.50L-517.08,-40.89L-517.28,-39.29L-517.66,-37.71L-518.21,-36.19L-518.92,-34.73L-545.76,-2.65L-515.14,-2.65M-502.35,-34.58L-478.65,-1.72M-478.65,-34.58L-502.35,-1.72M-386.40,-29.90A28.00,28.00 0 1 1 -442.40,-29.90A28.00,28.00 0 1 1 -386.40,-29.90ZM-441.56,-2.18L-386.40,-57.90M-339.96,0.08L-339.96,-51.70L-361.41,-17.91L-331.05,-17.91M-307.19,-9.41L-315.81,10.78M-287.80,-47.70L-287.30,-49.02L-286.65,-50.28L-285.86,-51.47L-284.94,-52.57L-283.91,-53.58L-282.77,-54.48L-281.54,-55.26L-280.23,-55.92L-278.85,-56.44L-277.42,-56.82L-275.96,-57.06L-274.48,-57.15L-272.99,-57.09L-271.52,-56.89L-270.09,-56.54L-268.70,-56.05L-267.37,-55.43L-266.11,-54.68L-264.95,-53.81L-263.89,-52.82L-262.95,-51.74L-262.13,-50.57L-261.44,-49.32L-260.90,-48.02L-260.51,-46.67L-260.27,-45.28L-260.18,-43.88L-260.25,-42.48L-260.47,-41.09L-260.85,-39.73L-261.37,-38.42L-262.04,-37.17L-262.84,-35.99L-263.77,-34.90L-264.82,-33.90L-265.97,-33.01L-267.21,-32.25L-268.53,-31.61L-269.92,-31.10L-271.35,-30.74L-272.82,-30.52L-274.30,-30.44L-278.60,-30.44M-274.30,-30.44L-272.70,-30.37L-271.11,-30.14L-269.56,-29.76L-268.06,-29.24L-266.63,-28.58L-265.28,-27.79L-264.03,-26.88L-262.89,-25.85L-261.88,-24.72L-261.01,-23.50L-260.28,-22.20L-259.70,-20.84L-259.29,-19.44L-259.03,-18.00L-258.95,-16.55L-259.03,-15.09L-259.29,-13.66L-259.70,-12.25L-260.28,-10.89L-261.01,-9.60L-261.88,-8.38L-262.89,-7.25L-264.03,-6.22L-265.28,-5.30L-266.63,-4.51L-268.06,-3.85L-269.56,-3.33L-271.11,-2.95L-272.70,-2.73L-274.30,-2.65L-275.90,-2.73L-277.49,-2.95L-279.04,-3.33L-280.54,-3.85L-281.98,-4.51L-283.32,-5.30L-284.57,-6.22L-285.71,-7.25L-286.72,-8.38L-287.59,-9.60L-288.32,-10.89L-288.90,-12.25L-289.31,-13.66" stroke-width="5.3"/>
</g>
<g transform="translate(1845.00,0) rotate(-90)">
<path d="M-997.34,-44.39L-997.19,-46.08L-996.85,-47.74L-996.34,-49.36L-995.65,-50.91L-994.80,-52.39L-993.80,-53.77L-992.65,-55.04L-991.36,-56.19L-989.96,-57.19L-988.46,-58.05L-986.88,-58.75L-985.23,-59.28L-983.52,-59.64L-981.79,-59.83L-980.05,-59.83L-978.32,-59.66L-976.62,-59.30L-974.96,-58.78L-973.37,-58.09L-971.87,-57.24L-970.46,-56.24L-969.18,-55.10L-968.02,-53.84L-967.01,-52.46L-966.15,-50.99L-965.45,-49.44L-964.93,-47.82L-964.59,-46.16L-964.43,-44.48L-964.45,-42.78L-964.65,-41.10L-965.04,-39.45L-965.61,-37.85L-966.34,-36.31L-994.06,-2.65L-962.44,-2.65M-913.09,-31.25L-913.19,-28.26L-913.47,-25.30L-913.94,-22.41L-914.58,-19.62L-915.40,-16.95L-916.38,-14.44L-917.52,-12.11L-918.79,-10.00L-920.19,-8.11L-921.71,-6.48L-923.31,-5.12L-924.99,-4.05L-926.74,-3.27L-928.52,-2.81L-930.32,-2.65L-932.12,-2.81L-933.90,-3.27L-935.64,-4.05L-937.32,-5.12L-938.93,-6.48L-940.44,-8.11L-941.84,-10.00L-943.12,-12.11L-944.25,-14.44L-945.23,-16.95L-946.05,-19.62L-946.70,-22.41L-947.16,-25.30L-947.45,-28.26L-947.54,-31.25L-947.45,-34.24L-947.16,-37.20L-946.70,-40.09L-946.05,-42.88L-945.23,-45.55L-944.25,-48.06L-943.12,-50.39L-941.84,-52.50L-940.44,-54.39L-938.93,-56.02L-937.32,-57.38L-935.64,-58.45L-933.90,-59.23L-932.12,-59.69L-930.32,-59.85L-928.52,-59.69L-926.74,-59.23L-924.99,-58.45L-923.31,-57.38L-921.71,-56.02L-920.19,-54.39L-918.79,-52.50L-917.52,-50.39L-916.38,-48.06L-915.40,-45.55L-914.58,-42.88L-913.94,-40.09L-913.47,-37.20L-913.19,-34.24L-913.09,-31.25ZM-890.09,-9.84L-899.10,11.27M-841.65,-31.25L-841.74,-28.26L-842.03,-25.30L-842.49,-22.41L-843.14,-19.62L-843.96,-16.95L-844.94,-14.44L-846.07,-12.11L-847.35,-10.00L-848.75,-8.11L-850.26,-6.48L-851.87,-5.12L-853.55,-4.05L-855.29,-3.27L-857.07,-2.81L-858.87,-2.65L-860.67,-2.81L-862.45,-3.27L-864.20,-4.05L-865.88,-5.12L-867.49,-6.48L-869.00,-8.11L-870.40,-10.00L-871.67,-12.11L-872.81,-14.44L-873.79,-16.95L-874.61,-19.62L-875.25,-22.41L-875.72,-25.30L-876.00,-28.26L-876.10,-31.25L-876.00,-34.24L-875.72,-37.20L-875.25,-40.09L-874.61,-42.88L-873.79,-45.55L-872.81,-48.06L-871.67,-50.39L-870.40,-52.50L-869.00,-54.39L-867.49,-56.02L-865.88,-57.38L-864.20,-58.45L-862.45,-59.23L-860.67,-59.69L-858.87,-59.85L-857.07,-59.69L-855.29,-59.23L-853.55,-58.45L-851.87,-57.38L-850.26,-56.02L-848.75,-54.39L-847.35,-52.50L-846.07,-50.39L-844.94,-48.06L-843.96,-45.55L-843.14,-42.88L-842.49,-40.09L-842.03,-37.20L-841.74,-34.24L-841.65,-31.25Z" stroke-width="5.3"/>
</g>
<g transform="translate(1845.00,0) rotate(-90)">
<path d="M-1287.34,-44.76L-1287.19,-46.46L-1286.85,-48.13L-1286.34,-49.77L-1285.66,-51.34L-1284.81,-52.83L-1283.80,-54.22L-1282.66,-55.50L-1281.38,-56.66L-1279.98,-57.67L-1278.48,-58.54L-1276.90,-59.24L-1275.25,-59.78L-1273.55,-60.14L-1271.83,-60.33L-1270.09,-60.33L-1268.36,-60.15L-1266.66,-59.80L-1265.01,-59.27L-1263.43,-58.57L-1261.92,-57.72L-1260.52,-56.71L-1259.24,-55.56L-1258.08,-54.28L-1257.07,-52.90L-1256.21,-51.41L-1255.52,-49.84L-1255.00,-48.22L-1254.66,-46.54L-1254.50,-44.84L-1254.52,-43.13L-1254.72,-41.44L-1255.11,-39.77L-1255.67,-38.16L-1256.41,-36.61L-1284.06,-2.65L-1252.51,-2.65M-1237.62,-44.76L-1237.47,-46.46L-1237.14,-48.13L-1236.62,-49.77L-1235.94,-51.34L-1235.09,-52.83L-1234.09,-54.22L-1232.94,-55.50L-1231.66,-56.66L-1230.26,-57.67L-1228.76,-58.54L-1227.18,-59.24L-1225.53,-59.78L-1223.84,-60.14L-1222.11,-60.33L-1220.37,-60.33L-1218.64,-60.15L-1216.95,-59.80L-1215.29,-59.27L-1213.71,-58.57L-1212.21,-57.72L-1210.80,-56.71L-1209.52,-55.56L-1208.36,-54.28L-1207.35,-52.90L-1206.50,-51.41L-1205.80,-49.84L-1205.28,-48.22L-1204.94,-46.54L-1204.78,-44.84L-1204.80,-43.13L-1205.01,-41.44L-1205.39,-39.77L-1205.96,-38.16L-1206.69,-36.61L-1234.35,-2.65L-1202.79,-2.65M-1180.25,-9.91L-1189.33,11.36M-1132.65,-60.35L-1157.23,-60.35L-1161.27,-34.38M-1159.44,-34.63L-1158.03,-35.72L-1156.53,-36.64L-1154.94,-37.37L-1153.30,-37.92L-1151.61,-38.27L-1149.90,-38.42L-1148.19,-38.37L-1146.49,-38.11L-1144.82,-37.66L-1143.20,-37.02L-1141.66,-36.19L-1140.21,-35.18L-1138.85,-34.01L-1137.62,-32.69L-1136.53,-31.23L-1135.58,-29.64L-1134.78,-27.96L-1134.15,-26.19L-1133.70,-24.36L-1133.42,-22.49L-1133.32,-20.59L-1133.41,-18.69L-1133.68,-16.82L-1134.12,-14.98L-1134.74,-13.21L-1135.53,-11.52L-1136.47,-9.94L-1137.56,-8.47L-1138.78,-7.14L-1140.12,-5.96L-1141.57,-4.94L-1143.11,-4.10L-1144.72,-3.44L-1146.39,-2.98L-1148.09,-2.72L-1149.80,-2.65L-1151.52,-2.79L-1153.20,-3.13L-1154.85,-3.66L-1156.44,-4.39L-1157.95,-5.30L-1159.36,-6.38L-1160.66,-7.61L-1161.83,-9.00L-1162.87,-10.51L-1163.76,-12.14" stroke-width="5.3"/>
</g>
<g transform="translate(2051.50,0) rotate(-90)">
<path d="M-913.54,-59.85L-880.11,-59.85L-908.85,0.21M-829.45,-59.85L-853.55,-59.85L-857.52,-34.11M-855.72,-34.36L-854.34,-35.43L-852.86,-36.34L-851.31,-37.07L-849.70,-37.61L-848.05,-37.96L-846.37,-38.11L-844.69,-38.06L-843.02,-37.81L-841.39,-37.36L-839.80,-36.72L-838.29,-35.90L-836.86,-34.90L-835.54,-33.74L-834.33,-32.43L-833.25,-30.98L-832.32,-29.41L-831.54,-27.74L-830.93,-25.99L-830.48,-24.17L-830.21,-22.32L-830.11,-20.44L-830.20,-18.56L-830.46,-16.70L-830.90,-14.88L-831.50,-13.12L-832.27,-11.45L-833.20,-9.87L-834.27,-8.42L-835.47,-7.10L-836.78,-5.93L-838.20,-4.92L-839.71,-4.09L-841.29,-3.44L-842.93,-2.98L-844.59,-2.72L-846.27,-2.65L-847.95,-2.79L-849.61,-3.13L-851.22,-3.66L-852.78,-4.37L-854.26,-5.27L-855.64,-6.34L-856.92,-7.57L-858.07,-8.94L-859.09,-10.44L-859.95,-12.06M-806.05,-9.84L-815.07,11.27M-758.65,-31.25L-758.74,-28.26L-759.02,-25.30L-759.47,-22.41L-760.11,-19.62L-760.91,-16.95L-761.87,-14.44L-762.98,-12.11L-764.23,-10.00L-765.60,-8.11L-767.08,-6.48L-768.65,-5.12L-770.30,-4.05L-772.00,-3.27L-773.74,-2.81L-775.50,-2.65L-777.26,-2.81L-779.01,-3.27L-780.71,-4.05L-782.36,-5.12L-783.93,-6.48L-785.41,-8.11L-786.78,-10.00L-788.03,-12.11L-789.14,-14.44L-790.10,-16.95L-790.90,-19.62L-791.53,-22.41L-791.99,-25.30L-792.26,-28.26L-792.36,-31.25L-792.26,-34.24L-791.99,-37.20L-791.53,-40.09L-790.90,-42.88L-790.10,-45.55L-789.14,-48.06L-788.03,-50.39L-786.78,-52.50L-785.41,-54.39L-783.93,-56.02L-782.36,-57.38L-780.71,-58.45L-779.01,-59.23L-777.26,-59.69L-775.50,-59.85L-773.74,-59.69L-772.00,-59.23L-770.30,-58.45L-768.65,-57.38L-767.08,-56.02L-765.60,-54.39L-764.23,-52.50L-762.98,-50.39L-761.87,-48.06L-760.91,-45.55L-760.11,-42.88L-759.47,-40.09L-759.02,-37.20L-758.74,-34.24L-758.65,-31.25Z" stroke-width="5.3"/>
</g>
<g transform="translate(2302.50,0) rotate(-90)">
<path d="M-925.86,-60.85L-948.40,-28.39M-919.48,-18.95L-919.57,-17.24L-919.83,-15.56L-920.26,-13.91L-920.86,-12.32L-921.62,-10.80L-922.53,-9.37L-923.58,-8.04L-924.76,-6.84L-926.05,-5.76L-927.45,-4.83L-928.94,-4.06L-930.49,-3.45L-932.10,-3.01L-933.75,-2.74L-935.42,-2.65L-937.08,-2.74L-938.73,-3.01L-940.34,-3.45L-941.90,-4.06L-943.38,-4.83L-944.78,-5.76L-946.08,-6.84L-947.26,-8.04L-948.31,-9.37L-949.22,-10.80L-949.97,-12.32L-950.57,-13.91L-951.00,-15.56L-951.26,-17.24L-951.35,-18.95L-951.26,-20.65L-951.00,-22.33L-950.57,-23.98L-949.97,-25.57L-949.22,-27.09L-948.31,-28.52L-947.26,-29.85L-946.08,-31.06L-944.78,-32.13L-943.38,-33.06L-941.90,-33.83L-940.34,-34.44L-938.73,-34.89L-937.08,-35.15L-935.42,-35.24L-933.75,-35.15L-932.10,-34.89L-930.49,-34.44L-928.94,-33.83L-927.45,-33.06L-926.05,-32.13L-924.76,-31.06L-923.58,-29.85L-922.53,-28.52L-921.62,-27.09L-920.86,-25.57L-920.26,-23.98L-919.83,-22.33L-919.57,-20.65L-919.48,-18.95ZM-872.43,-48.92L-872.51,-47.67L-872.73,-46.44L-873.10,-45.23L-873.62,-44.07L-874.27,-42.95L-875.06,-41.91L-875.96,-40.94L-876.98,-40.05L-878.10,-39.27L-879.30,-38.59L-880.59,-38.02L-881.93,-37.57L-883.32,-37.25L-884.74,-37.05L-886.18,-36.99L-887.61,-37.05L-889.03,-37.25L-890.42,-37.57L-891.77,-38.02L-893.05,-38.59L-894.26,-39.27L-895.37,-40.05L-896.39,-40.94L-897.30,-41.91L-898.08,-42.95L-898.73,-44.07L-899.25,-45.23L-899.62,-46.44L-899.85,-47.67L-899.92,-48.92L-899.85,-50.17L-899.62,-51.40L-899.25,-52.61L-898.73,-53.77L-898.08,-54.88L-897.30,-55.93L-896.39,-56.90L-895.37,-57.79L-894.26,-58.57L-893.05,-59.25L-891.77,-59.82L-890.42,-60.27L-889.03,-60.59L-887.61,-60.78L-886.18,-60.85L-884.74,-60.78L-883.32,-60.59L-881.93,-60.27L-880.59,-59.82L-879.30,-59.25L-878.10,-58.57L-876.98,-57.79L-875.96,-56.90L-875.06,-55.93L-874.27,-54.88L-873.62,-53.77L-873.10,-52.61L-872.73,-51.40L-872.51,-50.17L-872.43,-48.92ZM-870.19,-18.66L-870.28,-16.98L-870.54,-15.33L-870.98,-13.71L-871.58,-12.15L-872.34,-10.65L-873.25,-9.25L-874.30,-7.95L-875.48,-6.76L-876.78,-5.71L-878.19,-4.79L-879.68,-4.03L-881.24,-3.43L-882.85,-3.00L-884.51,-2.74L-886.18,-2.65L-887.85,-2.74L-889.50,-3.00L-891.12,-3.43L-892.68,-4.03L-894.17,-4.79L-895.57,-5.71L-896.87,-6.76L-898.05,-7.95L-899.11,-9.25L-900.02,-10.65L-900.78,-12.15L-901.38,-13.71L-901.81,-15.33L-902.07,-16.98L-902.16,-18.66L-902.07,-20.33L-901.81,-21.98L-901.38,-23.60L-900.78,-25.16L-900.02,-26.66L-899.11,-28.06L-898.05,-29.36L-896.87,-30.55L-895.57,-31.60L-894.17,-32.52L-892.68,-33.28L-891.12,-33.88L-889.50,-34.31L-887.85,-34.57L-886.18,-34.66L-884.51,-34.57L-882.85,-34.31L-881.24,-33.88L-879.68,-33.28L-878.19,-32.52L-876.78,-31.60L-875.48,-30.55L-874.30,-29.36L-873.25,-28.06L-872.34,-26.66L-871.58,-25.16L-870.98,-23.60L-870.54,-21.98L-870.28,-20.33L-870.19,-18.66ZM-845.32,-9.99L-854.49,11.45M-797.65,-31.75L-797.74,-28.71L-798.02,-25.70L-798.48,-22.76L-799.12,-19.91L-799.92,-17.20L-800.89,-14.65L-802.01,-12.28L-803.27,-10.12L-804.65,-8.21L-806.14,-6.55L-807.72,-5.17L-809.38,-4.07L-811.10,-3.29L-812.85,-2.81L-814.63,-2.65L-816.40,-2.81L-818.16,-3.29L-819.87,-4.07L-821.53,-5.17L-823.11,-6.55L-824.61,-8.21L-825.99,-10.12L-827.24,-12.28L-828.36,-14.65L-829.33,-17.20L-830.14,-19.91L-830.77,-22.76L-831.23,-25.70L-831.51,-28.71L-831.60,-31.75L-831.51,-34.79L-831.23,-37.80L-830.77,-40.74L-830.14,-43.59L-829.33,-46.30L-828.36,-48.85L-827.24,-51.22L-825.99,-53.38L-824.61,-55.29L-823.11,-56.95L-821.53,-58.33L-819.87,-59.43L-818.16,-60.21L-816.40,-60.69L-814.63,-60.85L-812.85,-60.69L-811.10,-60.21L-809.38,-59.43L-807.72,-58.33L-806.14,-56.95L-804.65,-55.29L-803.27,-53.38L-802.01,-51.22L-800.89,-48.85L-799.92,-46.30L-799.12,-43.59L-798.48,-40.74L-798.02,-37.80L-797.74,-34.79L-797.65,-31.75Z" stroke-width="5.3"/>
</g>
<g transform="translate(0,1504.00)">
<path d="M1417.91,-58.35L1452.18,-58.35L1422.71,0.14M1477.65,-9.60L1468.85,11.00M1526.35,-30.50L1526.26,-27.59L1525.97,-24.71L1525.50,-21.89L1524.86,-19.17L1524.04,-16.57L1523.05,-14.13L1521.91,-11.86L1520.63,-9.80L1519.23,-7.97L1517.71,-6.38L1516.10,-5.06L1514.41,-4.01L1512.66,-3.26L1510.88,-2.80L1509.07,-2.65L1507.27,-2.80L1505.48,-3.26L1503.73,-4.01L1502.04,-5.06L1500.43,-6.38L1498.92,-7.97L1497.51,-9.80L1496.23,-11.86L1495.09,-14.13L1494.11,-16.57L1493.29,-19.17L1492.64,-21.89L1492.17,-24.71L1491.89,-27.59L1491.79,-30.50L1491.89,-33.41L1492.17,-36.29L1492.64,-39.11L1493.29,-41.83L1494.11,-44.43L1495.09,-46.87L1496.23,-49.14L1497.51,-51.20L1498.92,-53.03L1500.43,-54.62L1502.04,-55.94L1503.73,-56.99L1505.48,-57.74L1507.27,-58.20L1509.07,-58.35L1510.88,-58.20L1512.66,-57.74L1514.41,-56.99L1516.10,-55.94L1517.71,-54.62L1519.23,-53.03L1520.63,-51.20L1521.91,-49.14L1523.05,-46.87L1524.04,-44.43L1524.86,-41.83L1525.50,-39.11L1525.97,-36.29L1526.26,-33.41L1526.35,-30.50Z" stroke-width="5.3"/>
</g>
<g transform="translate(0,1643.00)">
<path d="M1388.57,-47.87L1389.10,-49.19L1389.77,-50.46L1390.59,-51.65L1391.54,-52.76L1392.62,-53.77L1393.80,-54.67L1395.08,-55.46L1396.45,-56.11L1397.88,-56.64L1399.36,-57.02L1400.88,-57.26L1402.42,-57.35L1403.96,-57.29L1405.49,-57.09L1406.99,-56.74L1408.43,-56.25L1409.81,-55.62L1411.12,-54.87L1412.32,-53.99L1413.42,-53.01L1414.41,-51.92L1415.26,-50.75L1415.97,-49.50L1416.53,-48.19L1416.94,-46.83L1417.19,-45.44L1417.29,-44.03L1417.21,-42.63L1416.98,-41.23L1416.59,-39.87L1416.04,-38.55L1415.35,-37.30L1414.51,-36.11L1413.55,-35.01L1412.46,-34.02L1411.26,-33.13L1409.97,-32.36L1408.60,-31.71L1407.16,-31.21L1405.67,-30.84L1404.15,-30.62L1402.61,-30.55L1398.14,-30.55M1402.61,-30.55L1404.27,-30.47L1405.92,-30.24L1407.54,-29.86L1409.10,-29.34L1410.58,-28.68L1411.98,-27.88L1413.28,-26.96L1414.46,-25.93L1415.51,-24.80L1416.42,-23.57L1417.18,-22.27L1417.78,-20.91L1418.21,-19.50L1418.47,-18.06L1418.56,-16.60L1418.47,-15.14L1418.21,-13.70L1417.78,-12.29L1417.18,-10.93L1416.42,-9.62L1415.51,-8.40L1414.46,-7.27L1413.28,-6.23L1411.98,-5.31L1410.58,-4.52L1409.10,-3.86L1407.54,-3.33L1405.92,-2.95L1404.27,-2.73L1402.61,-2.65L1400.94,-2.73L1399.29,-2.95L1397.68,-3.33L1396.12,-3.86L1394.63,-4.52L1393.23,-5.31L1391.93,-6.23L1390.75,-7.27L1389.70,-8.40L1388.79,-9.62L1388.03,-10.93L1387.43,-12.29L1387.00,-13.70M1459.42,0.09L1459.42,-51.88L1438.48,-17.97L1468.11,-17.97M1492.55,-9.44L1483.90,10.82M1539.85,-57.35L1515.54,-57.35L1511.54,-32.73M1513.36,-32.97L1514.75,-34.00L1516.23,-34.87L1517.80,-35.57L1519.42,-36.08L1521.09,-36.42L1522.79,-36.56L1524.48,-36.51L1526.16,-36.27L1527.81,-35.84L1529.41,-35.23L1530.94,-34.44L1532.38,-33.49L1533.71,-32.38L1534.93,-31.12L1536.02,-29.74L1536.96,-28.24L1537.74,-26.64L1538.36,-24.97L1538.81,-23.23L1539.09,-21.46L1539.18,-19.66L1539.10,-17.86L1538.83,-16.08L1538.39,-14.34L1537.78,-12.66L1537.01,-11.06L1536.07,-9.56L1535.00,-8.17L1533.79,-6.90L1532.46,-5.78L1531.02,-4.82L1529.50,-4.02L1527.91,-3.40L1526.26,-2.96L1524.58,-2.71L1522.88,-2.65L1521.19,-2.78L1519.52,-3.11L1517.89,-3.61L1516.32,-4.30L1514.83,-5.16L1513.43,-6.18L1512.14,-7.36L1510.98,-8.67L1509.96,-10.10L1509.08,-11.65" stroke-width="5.3"/>
</g>
<g transform="translate(3056.00,0) rotate(-90)">
<path d="M-472.64,-42.42L-472.47,-44.03L-472.09,-45.61L-471.51,-47.15L-470.73,-48.64L-469.77,-50.04L-468.63,-51.36L-467.32,-52.57L-465.87,-53.66L-464.29,-54.62L-462.59,-55.44L-460.79,-56.10L-458.92,-56.61L-456.99,-56.95L-455.03,-57.13L-453.06,-57.13L-451.10,-56.96L-449.17,-56.63L-447.30,-56.13L-445.50,-55.47L-443.79,-54.66L-442.20,-53.71L-440.74,-52.62L-439.43,-51.42L-438.29,-50.11L-437.31,-48.71L-436.53,-47.23L-435.94,-45.69L-435.55,-44.11L-435.36,-42.50L-435.39,-40.89L-435.62,-39.29L-436.06,-37.71L-436.70,-36.19L-437.53,-34.73L-468.92,-2.65L-433.11,-2.65M-424.55,-34.37L-400.95,-1.73M-400.95,-34.37L-424.55,-1.73M-311.65,-29.90L-311.80,-27.05L-312.24,-24.23L-312.96,-21.48L-313.97,-18.82L-315.25,-16.28L-316.78,-13.88L-318.55,-11.67L-320.53,-9.65L-322.72,-7.85L-325.08,-6.30L-327.58,-5.01L-330.20,-3.98L-332.92,-3.25L-335.69,-2.80L-338.50,-2.65L-341.31,-2.80L-344.08,-3.25L-346.80,-3.98L-349.42,-5.01L-351.93,-6.30L-354.28,-7.85L-356.47,-9.65L-358.45,-11.67L-360.22,-13.88L-361.75,-16.28L-363.03,-18.82L-364.04,-21.48L-364.76,-24.23L-365.20,-27.05L-365.35,-29.90L-365.20,-32.75L-364.76,-35.57L-364.04,-38.32L-363.03,-40.98L-361.75,-43.53L-360.22,-45.92L-358.45,-48.13L-356.47,-50.15L-354.28,-51.95L-351.93,-53.50L-349.42,-54.79L-346.80,-55.82L-344.08,-56.55L-341.31,-57.00L-338.50,-57.15L-335.69,-57.00L-332.92,-56.55L-330.20,-55.82L-327.58,-54.79L-325.08,-53.50L-322.72,-51.95L-320.53,-50.15M-311.65,-29.90L-335.81,-29.90M-256.65,0.08L-256.65,-57.15L-271.95,-53.88M-229.35,7.79L-203.05,-60.89M-158.67,-45.98L-158.75,-44.81L-159.00,-43.65L-159.40,-42.53L-159.96,-41.43L-160.67,-40.39L-161.51,-39.41L-162.49,-38.50L-163.59,-37.67L-164.80,-36.94L-166.11,-36.30L-167.50,-35.77L-168.95,-35.35L-170.46,-35.05L-171.99,-34.87L-173.55,-34.81L-175.11,-34.87L-176.64,-35.05L-178.15,-35.35L-179.60,-35.77L-180.99,-36.30L-182.30,-36.94L-183.51,-37.67L-184.61,-38.50L-185.59,-39.41L-186.43,-40.39L-187.14,-41.43L-187.70,-42.53L-188.10,-43.65L-188.35,-44.81L-188.43,-45.98L-188.35,-47.15L-188.10,-48.30L-187.70,-49.43L-187.14,-50.52L-186.43,-51.56L-185.59,-52.54L-184.61,-53.45L-183.51,-54.28L-182.30,-55.02L-180.99,-55.65L-179.60,-56.18L-178.15,-56.60L-176.64,-56.91L-175.11,-57.09L-173.55,-57.15L-171.99,-57.09L-170.46,-56.91L-168.95,-56.60L-167.50,-56.18L-166.11,-55.65L-164.80,-55.02L-163.59,-54.28L-162.49,-53.45L-161.51,-52.54L-160.67,-51.56L-159.96,-50.52L-159.40,-49.43L-159.00,-48.30L-158.75,-47.15L-158.67,-45.98ZM-156.25,-17.64L-156.34,-16.07L-156.63,-14.52L-157.10,-13.01L-157.75,-11.54L-158.57,-10.14L-159.55,-8.83L-160.69,-7.61L-161.97,-6.50L-163.38,-5.51L-164.90,-4.66L-166.51,-3.95L-168.20,-3.38L-169.95,-2.98L-171.74,-2.73L-173.55,-2.65L-175.36,-2.73L-177.15,-2.98L-178.90,-3.38L-180.59,-3.95L-182.20,-4.66L-183.72,-5.51L-185.13,-6.50L-186.41,-7.61L-187.55,-8.83L-188.53,-10.14L-189.35,-11.54L-190.00,-13.01L-190.47,-14.52L-190.76,-16.07L-190.85,-17.64L-190.76,-19.20L-190.47,-20.75L-190.00,-22.27L-189.35,-23.73L-188.53,-25.13L-187.55,-26.45L-186.41,-27.67L-185.13,-28.78L-183.72,-29.76L-182.20,-30.62L-180.59,-31.33L-178.90,-31.89L-177.15,-32.30L-175.36,-32.54L-173.55,-32.63L-171.74,-32.54L-169.95,-32.30L-168.20,-31.89L-166.51,-31.33L-164.90,-30.62L-163.38,-29.76L-161.97,-28.78L-160.69,-27.67L-159.55,-26.45L-158.57,-25.13L-157.75,-23.73L-157.10,-22.27L-156.63,-20.75L-156.34,-19.20L-156.25,-17.64ZM-122.45,-57.15L-130.16,-40.80M-135.04,-57.15L-142.75,-40.80" stroke-width="5.3"/>
</g>
<g transform="translate(2586.70,0) rotate(-90)">
<path d="M-633.15,-0.37L-633.15,-44.05L-617.97,-44.05L-617.97,-44.05L-616.67,-43.99L-615.39,-43.82L-614.13,-43.54L-612.92,-43.15L-611.76,-42.66L-610.67,-42.06L-609.66,-41.38L-608.74,-40.61L-607.92,-39.76L-607.21,-38.85L-606.62,-37.88L-606.16,-36.86L-605.82,-35.81L-605.62,-34.74L-605.55,-33.65L-605.62,-32.56L-605.82,-31.49L-606.16,-30.44L-606.62,-29.42L-607.21,-28.45L-607.92,-27.54L-608.74,-26.69L-609.66,-25.92L-610.67,-25.24L-611.76,-24.64L-612.92,-24.15L-614.13,-23.76L-615.39,-23.48L-616.67,-23.31L-617.97,-23.25L-633.15,-23.25M-619.35,-23.25L-605.55,-0.37M-581.65,-0.37L-581.65,-44.05L-589.45,-34.07" stroke-width="4.9"/>
</g>
<g transform="translate(2654.60,0) rotate(-90)">
<path d="M-590.65,-45.15L-611.60,-45.15L-615.04,-25.93M-613.48,-26.12L-612.28,-26.92L-611.00,-27.60L-609.65,-28.15L-608.25,-28.55L-606.81,-28.81L-605.36,-28.92L-603.89,-28.88L-602.44,-28.69L-601.02,-28.36L-599.65,-27.88L-598.33,-27.27L-597.09,-26.52L-595.94,-25.66L-594.89,-24.68L-593.95,-23.60L-593.14,-22.43L-592.47,-21.18L-591.93,-19.87L-591.54,-18.52L-591.31,-17.13L-591.22,-15.73L-591.30,-14.32L-591.53,-12.93L-591.90,-11.58L-592.43,-10.27L-593.10,-9.02L-593.90,-7.84L-594.83,-6.76L-595.88,-5.77L-597.02,-4.90L-598.26,-4.14L-599.57,-3.52L-600.94,-3.04L-602.36,-2.70L-603.81,-2.50L-605.27,-2.45L-606.73,-2.55L-608.17,-2.81L-609.57,-3.20L-610.93,-3.74L-612.21,-4.41L-613.42,-5.21L-614.52,-6.12L-615.53,-7.15L-616.41,-8.27L-617.16,-9.47" stroke-width="4.9"/>
</g>
<g transform="translate(2585.50,0) rotate(-90)">
<path d="M-825.05,-0.44L-825.05,-42.55L-813.00,-42.55L-813.00,-42.55L-811.74,-42.48L-810.49,-42.29L-809.28,-41.96L-808.10,-41.51L-806.97,-40.94L-805.92,-40.25L-804.94,-39.46L-804.05,-38.57L-803.25,-37.59L-802.56,-36.53L-801.99,-35.41L-801.54,-34.24L-801.21,-33.02L-801.02,-31.78L-800.95,-30.52L-801.02,-29.26L-801.21,-28.02L-801.54,-26.80L-801.99,-25.63L-802.56,-24.50L-803.25,-23.45L-804.05,-22.47L-804.94,-21.58L-805.92,-20.79L-806.97,-20.10L-808.10,-19.53L-809.28,-19.08L-810.49,-18.75L-811.74,-18.56L-813.00,-18.49L-825.05,-18.49" stroke-width="4.9"/>
</g>
<g transform="translate(2843.00,0) rotate(-90)">
<path d="M-1009.95,-0.39L-1009.95,-43.55L-1021.55,-33.69" stroke-width="4.9"/>
</g>
<g transform="translate(2791.60,0) rotate(-90)">
<path d="M-1218.70,-45.15L-1192.20,-45.15L-1207.71,-28.07M-1211.41,-28.50L-1210.04,-29.04L-1208.61,-29.43L-1207.15,-29.68L-1205.67,-29.78L-1204.19,-29.72L-1202.73,-29.52L-1201.29,-29.17L-1199.90,-28.67L-1198.57,-28.04L-1197.32,-27.28L-1196.15,-26.39L-1195.09,-25.39L-1194.15,-24.28L-1193.32,-23.09L-1192.64,-21.81L-1192.09,-20.48L-1191.69,-19.10L-1191.44,-17.68L-1191.35,-16.25L-1191.41,-14.82L-1191.63,-13.40L-1192.00,-12.01L-1192.52,-10.66L-1193.18,-9.38L-1193.98,-8.17L-1194.90,-7.04L-1195.94,-6.02L-1197.09,-5.11L-1198.33,-4.32L-1199.64,-3.66L-1201.02,-3.14L-1202.45,-2.76L-1203.91,-2.53L-1205.39,-2.45L-1206.87,-2.52L-1208.34,-2.74L-1209.77,-3.11L-1211.15,-3.62L-1212.48,-4.27L-1213.72,-5.05L-1214.87,-5.95L-1215.92,-6.96L-1216.85,-8.08L-1217.66,-9.28" stroke-width="4.9"/>
</g>
<g transform="translate(2850.50,0) rotate(-90)">
<path d="M-1233.35,-0.37L-1233.35,-44.05L-1218.17,-44.05L-1218.17,-44.05L-1216.87,-43.99L-1215.59,-43.82L-1214.33,-43.54L-1213.12,-43.15L-1211.96,-42.66L-1210.87,-42.06L-1209.86,-41.38L-1208.94,-40.61L-1208.12,-39.76L-1207.41,-38.85L-1206.82,-37.88L-1206.36,-36.86L-1206.02,-35.81L-1205.82,-34.74L-1205.75,-33.65L-1205.82,-32.56L-1206.02,-31.49L-1206.36,-30.44L-1206.82,-29.42L-1207.41,-28.45L-1208.12,-27.54L-1208.94,-26.69L-1209.86,-25.92L-1210.87,-25.24L-1211.96,-24.64L-1213.12,-24.15L-1214.33,-23.76L-1215.59,-23.48L-1216.87,-23.31L-1218.17,-23.25L-1233.35,-23.25M-1219.55,-23.25L-1205.75,-0.37M-1188.44,-32.81L-1188.32,-34.03L-1188.06,-35.24L-1187.65,-36.42L-1187.11,-37.55L-1186.44,-38.63L-1185.64,-39.63L-1184.74,-40.55L-1183.72,-41.39L-1182.62,-42.12L-1181.43,-42.74L-1180.18,-43.25L-1178.88,-43.64L-1177.54,-43.90L-1176.17,-44.03L-1174.80,-44.04L-1173.43,-43.91L-1172.09,-43.65L-1170.78,-43.27L-1169.52,-42.77L-1168.34,-42.15L-1167.23,-41.42L-1166.21,-40.60L-1165.30,-39.68L-1164.50,-38.68L-1163.82,-37.60L-1163.27,-36.48L-1162.86,-35.30L-1162.59,-34.09L-1162.46,-32.87L-1162.48,-31.64L-1162.64,-30.41L-1162.95,-29.21L-1163.39,-28.05L-1163.97,-26.93L-1185.85,-2.45L-1160.89,-2.45" stroke-width="4.9"/>
</g>
<g transform="translate(3029.00,0) rotate(-90)">
<path d="M-987.96,-49.52L-987.43,-50.89L-986.77,-52.20L-985.96,-53.44L-985.02,-54.59L-983.96,-55.64L-982.79,-56.57L-981.52,-57.39L-980.18,-58.07L-978.76,-58.61L-977.29,-59.01L-975.79,-59.25L-974.27,-59.35L-972.75,-59.29L-971.24,-59.08L-969.77,-58.72L-968.34,-58.21L-966.97,-57.56L-965.69,-56.78L-964.50,-55.87L-963.41,-54.85L-962.44,-53.72L-961.60,-52.50L-960.90,-51.21L-960.34,-49.85L-959.93,-48.44L-959.68,-47.00L-959.60,-45.55L-959.67,-44.09L-959.90,-42.64L-960.28,-41.23L-960.82,-39.87L-961.51,-38.56L-962.33,-37.34L-963.29,-36.20L-964.36,-35.16L-965.54,-34.24L-966.82,-33.44L-968.17,-32.78L-969.60,-32.25L-971.07,-31.87L-972.57,-31.64L-974.09,-31.57L-978.50,-31.57M-974.09,-31.57L-972.45,-31.49L-970.82,-31.25L-969.22,-30.86L-967.68,-30.32L-966.21,-29.63L-964.83,-28.81L-963.55,-27.85L-962.38,-26.78L-961.34,-25.61L-960.45,-24.34L-959.70,-22.99L-959.11,-21.58L-958.68,-20.11L-958.42,-18.62L-958.33,-17.11L-958.42,-15.60L-958.68,-14.10L-959.11,-12.64L-959.70,-11.23L-960.45,-9.88L-961.34,-8.61L-962.38,-7.43L-963.55,-6.36L-964.83,-5.41L-966.21,-4.59L-967.68,-3.90L-969.22,-3.36L-970.82,-2.97L-972.45,-2.73L-974.09,-2.65L-975.74,-2.73L-977.37,-2.97L-978.96,-3.36L-980.50,-3.90L-981.97,-4.59L-983.35,-5.41L-984.64,-6.36L-985.80,-7.43L-986.84,-8.61L-987.74,-9.88L-988.49,-11.23L-989.08,-12.64L-989.51,-14.10M-908.23,-59.35L-932.24,-59.35L-936.19,-33.84M-934.40,-34.08L-933.02,-35.15L-931.55,-36.05L-930.01,-36.77L-928.40,-37.31L-926.76,-37.65L-925.08,-37.80L-923.41,-37.75L-921.75,-37.50L-920.12,-37.06L-918.54,-36.42L-917.03,-35.61L-915.61,-34.62L-914.29,-33.47L-913.09,-32.17L-912.02,-30.73L-911.09,-29.18L-910.31,-27.52L-909.70,-25.79L-909.25,-23.99L-908.98,-22.14L-908.89,-20.28L-908.97,-18.42L-909.23,-16.57L-909.67,-14.77L-910.27,-13.03L-911.04,-11.37L-911.96,-9.81L-913.02,-8.37L-914.22,-7.06L-915.53,-5.90L-916.95,-4.90L-918.45,-4.07L-920.03,-3.43L-921.65,-2.98L-923.31,-2.72L-924.99,-2.65L-926.66,-2.79L-928.31,-3.12L-929.92,-3.65L-931.47,-4.36L-932.94,-5.25L-934.32,-6.31L-935.59,-7.53L-936.74,-8.89L-937.75,-10.38L-938.62,-11.98M-884.91,-9.76L-893.86,11.18M-837.65,-31.00L-837.74,-28.04L-838.02,-25.11L-838.47,-22.24L-839.10,-19.47L-839.90,-16.82L-840.86,-14.34L-841.96,-12.03L-843.21,-9.93L-844.57,-8.06L-846.05,-6.45L-847.61,-5.10L-849.25,-4.04L-850.95,-3.27L-852.69,-2.81L-854.44,-2.65L-856.20,-2.81L-857.93,-3.27L-859.63,-4.04L-861.27,-5.10L-862.84,-6.45L-864.31,-8.06L-865.68,-9.93L-866.92,-12.03L-868.03,-14.34L-868.98,-16.82L-869.78,-19.47L-870.41,-22.24L-870.87,-25.11L-871.14,-28.04L-871.23,-31.00L-871.14,-33.96L-870.87,-36.89L-870.41,-39.76L-869.78,-42.53L-868.98,-45.18L-868.03,-47.66L-866.92,-49.97L-865.68,-52.07L-864.31,-53.94L-862.84,-55.55L-861.27,-56.90L-859.63,-57.96L-857.93,-58.73L-856.20,-59.19L-854.44,-59.35L-852.69,-59.19L-850.95,-58.73L-849.25,-57.96L-847.61,-56.90L-846.05,-55.55L-844.57,-53.94L-843.21,-52.07L-841.96,-49.97L-840.86,-47.66L-839.90,-45.18L-839.10,-42.53L-838.47,-39.76L-838.02,-36.89L-837.74,-33.96L-837.65,-31.00Z" stroke-width="5.3"/>
</g>
<g transform="translate(3025.50,0) rotate(-90)">
<path d="M-1328.84,0.09L-1328.84,-57.35L-1337.85,-54.07M-1261.46,-57.35L-1286.55,-57.35L-1290.67,-32.73M-1288.80,-32.97L-1287.36,-34.00L-1285.83,-34.87L-1284.22,-35.57L-1282.54,-36.08L-1280.82,-36.42L-1279.07,-36.56L-1277.32,-36.51L-1275.58,-36.27L-1273.88,-35.84L-1272.23,-35.23L-1270.66,-34.44L-1269.17,-33.49L-1267.79,-32.38L-1266.53,-31.12L-1265.41,-29.74L-1264.44,-28.24L-1263.63,-26.64L-1262.99,-24.97L-1262.53,-23.23L-1262.24,-21.46L-1262.15,-19.66L-1262.23,-17.86L-1262.51,-16.08L-1262.96,-14.34L-1263.59,-12.66L-1264.39,-11.06L-1265.36,-9.56L-1266.47,-8.17L-1267.72,-6.90L-1269.09,-5.78L-1270.57,-4.82L-1272.14,-4.02L-1273.78,-3.40L-1275.48,-2.96L-1277.22,-2.71L-1278.97,-2.65L-1280.72,-2.78L-1282.44,-3.11L-1284.12,-3.61L-1285.74,-4.30L-1287.28,-5.16L-1288.72,-6.18L-1290.05,-7.36L-1291.25,-8.67L-1292.31,-10.10L-1293.21,-11.65M-1237.66,-9.44L-1246.32,10.82M-1188.15,-30.00L-1188.25,-27.14L-1188.53,-24.31L-1189.01,-21.55L-1189.67,-18.88L-1190.50,-16.32L-1191.50,-13.92L-1192.66,-11.70L-1193.95,-9.67L-1195.38,-7.87L-1196.92,-6.31L-1198.56,-5.01L-1200.27,-3.99L-1202.05,-3.25L-1203.86,-2.80L-1205.69,-2.65L-1207.53,-2.80L-1209.34,-3.25L-1211.11,-3.99L-1212.83,-5.01L-1214.46,-6.31L-1216.00,-7.87L-1217.43,-9.67L-1218.73,-11.70L-1219.89,-13.92L-1220.89,-16.32L-1221.72,-18.88L-1222.38,-21.55L-1222.85,-24.31L-1223.14,-27.14L-1223.24,-30.00L-1223.14,-32.86L-1222.85,-35.69L-1222.38,-38.45L-1221.72,-41.12L-1220.89,-43.68L-1219.89,-46.08L-1218.73,-48.30L-1217.43,-50.33L-1216.00,-52.13L-1214.46,-53.69L-1212.83,-54.99L-1211.11,-56.01L-1209.34,-56.75L-1207.53,-57.20L-1205.69,-57.35L-1203.86,-57.20L-1202.05,-56.75L-1200.27,-56.01L-1198.56,-54.99L-1196.92,-53.69L-1195.38,-52.13L-1193.95,-50.33L-1192.66,-48.30L-1191.50,-46.08L-1190.50,-43.68L-1189.67,-41.12L-1189.01,-38.45L-1188.53,-35.69L-1188.25,-32.86L-1188.15,-30.00Z" stroke-width="5.3"/>
</g>
<g transform="translate(0,1505.50)">
<path d="M2683.20,-44.94L2683.14,-43.80L2682.95,-42.68L2682.64,-41.57L2682.20,-40.51L2681.65,-39.49L2680.99,-38.53L2680.23,-37.65L2679.37,-36.84L2678.43,-36.12L2677.41,-35.50L2676.33,-34.98L2675.20,-34.57L2674.03,-34.28L2672.83,-34.10L2671.62,-34.04L2670.41,-34.10L2669.21,-34.28L2668.04,-34.57L2666.91,-34.98L2665.83,-35.50L2664.81,-36.12L2663.87,-36.84L2663.01,-37.65L2662.25,-38.53L2661.59,-39.49L2661.04,-40.51L2660.60,-41.57L2660.29,-42.68L2660.10,-43.80L2660.04,-44.94L2660.10,-46.08L2660.29,-47.21L2660.60,-48.31L2661.04,-49.38L2661.59,-50.40L2662.25,-51.35L2663.01,-52.24L2663.87,-53.05L2664.81,-53.77L2665.83,-54.39L2666.91,-54.91L2668.04,-55.32L2669.21,-55.61L2670.41,-55.79L2671.62,-55.85L2672.83,-55.79L2674.03,-55.61L2675.20,-55.32L2676.33,-54.91L2677.41,-54.39L2678.43,-53.77L2679.37,-53.05L2680.23,-52.24L2680.99,-51.35L2681.65,-50.40L2682.20,-49.38L2682.64,-48.31L2682.95,-47.21L2683.14,-46.08L2683.20,-44.94ZM2685.09,-17.28L2685.02,-15.75L2684.80,-14.24L2684.43,-12.76L2683.93,-11.33L2683.29,-9.97L2682.52,-8.68L2681.63,-7.49L2680.63,-6.41L2679.54,-5.44L2678.35,-4.61L2677.10,-3.91L2675.78,-3.37L2674.42,-2.97L2673.03,-2.73L2671.62,-2.65L2670.21,-2.73L2668.82,-2.97L2667.46,-3.37L2666.14,-3.91L2664.88,-4.61L2663.70,-5.44L2662.61,-6.41L2661.61,-7.49L2660.72,-8.68L2659.95,-9.97L2659.31,-11.33L2658.81,-12.76L2658.44,-14.24L2658.22,-15.75L2658.15,-17.28L2658.22,-18.81L2658.44,-20.32L2658.81,-21.80L2659.31,-23.23L2659.95,-24.60L2660.72,-25.88L2661.61,-27.07L2662.61,-28.15L2663.70,-29.12L2664.88,-29.95L2666.14,-30.65L2667.46,-31.19L2668.82,-31.59L2670.21,-31.83L2671.62,-31.91L2673.03,-31.83L2674.42,-31.59L2675.78,-31.19L2677.10,-30.65L2678.35,-29.95L2679.54,-29.12L2680.63,-28.15L2681.63,-27.07L2682.52,-25.88L2683.29,-24.60L2683.93,-23.23L2684.43,-21.80L2684.80,-20.32L2685.02,-18.81L2685.09,-17.28ZM2707.22,-9.21L2698.78,10.55M2747.85,-29.25L2747.77,-26.47L2747.54,-23.72L2747.15,-21.03L2746.61,-18.43L2745.93,-15.95L2745.11,-13.61L2744.17,-11.45L2743.11,-9.48L2741.94,-7.73L2740.69,-6.21L2739.35,-4.95L2737.95,-3.95L2736.50,-3.23L2735.02,-2.80L2733.52,-2.65L2732.02,-2.80L2730.54,-3.23L2729.09,-3.95L2727.69,-4.95L2726.36,-6.21L2725.10,-7.73L2723.93,-9.48L2722.87,-11.45L2721.93,-13.61L2721.11,-15.95L2720.43,-18.43L2719.89,-21.03L2719.50,-23.72L2719.27,-26.47L2719.19,-29.25L2719.27,-32.03L2719.50,-34.78L2719.89,-37.47L2720.43,-40.07L2721.11,-42.55L2721.93,-44.89L2722.87,-47.05L2723.93,-49.02L2725.10,-50.77L2726.36,-52.29L2727.69,-53.55L2729.09,-54.55L2730.54,-55.27L2732.02,-55.70L2733.52,-55.85L2735.02,-55.70L2736.50,-55.27L2737.95,-54.55L2739.35,-53.55L2740.69,-52.29L2741.94,-50.77L2743.11,-49.02L2744.17,-47.05L2745.11,-44.89L2745.93,-42.55L2746.61,-40.07L2747.15,-37.47L2747.54,-34.78L2747.77,-32.03L2747.85,-29.25Z" stroke-width="5.3"/>
</g>
<g transform="translate(0,1658.00)">
<path d="M2623.16,-41.84L2623.31,-43.42L2623.64,-44.98L2624.14,-46.50L2624.81,-47.96L2625.65,-49.35L2626.63,-50.64L2627.76,-51.84L2629.02,-52.91L2630.39,-53.86L2631.86,-54.66L2633.41,-55.32L2635.03,-55.82L2636.70,-56.16L2638.39,-56.33L2640.10,-56.33L2641.79,-56.17L2643.46,-55.84L2645.08,-55.35L2646.64,-54.70L2648.11,-53.90L2649.49,-52.96L2650.75,-51.89L2651.89,-50.70L2652.88,-49.41L2653.72,-48.03L2654.40,-46.57L2654.91,-45.06L2655.25,-43.50L2655.41,-41.92L2655.39,-40.33L2655.18,-38.75L2654.80,-37.20L2654.25,-35.70L2653.53,-34.26L2626.38,-2.65L2657.36,-2.65M2697.43,-56.35L2675.02,-26.40M2703.77,-17.69L2703.68,-16.11L2703.42,-14.56L2702.99,-13.04L2702.40,-11.57L2701.65,-10.17L2700.74,-8.85L2699.70,-7.62L2698.53,-6.51L2697.24,-5.52L2695.85,-4.66L2694.37,-3.95L2692.82,-3.39L2691.22,-2.98L2689.58,-2.73L2687.93,-2.65L2686.27,-2.73L2684.64,-2.98L2683.03,-3.39L2681.49,-3.95L2680.01,-4.66L2678.62,-5.52L2677.33,-6.51L2676.16,-7.62L2675.12,-8.85L2674.21,-10.17L2673.46,-11.57L2672.87,-13.04L2672.44,-14.56L2672.18,-16.11L2672.09,-17.69L2672.18,-19.26L2672.44,-20.81L2672.87,-22.33L2673.46,-23.80L2674.21,-25.20L2675.12,-26.52L2676.16,-27.75L2677.33,-28.86L2678.62,-29.85L2680.01,-30.71L2681.49,-31.42L2683.03,-31.99L2684.64,-32.39L2686.27,-32.64L2687.93,-32.72L2689.58,-32.64L2691.22,-32.39L2692.82,-31.99L2694.37,-31.42L2695.85,-30.71L2697.24,-29.85L2698.53,-28.86L2699.70,-27.75L2700.74,-26.52L2701.65,-25.20L2702.40,-23.80L2702.99,-22.33L2703.42,-20.81L2703.68,-19.26L2703.77,-17.69ZM2728.32,-9.29L2719.81,10.64M2775.35,-56.35L2751.22,-56.35L2747.25,-32.19M2749.05,-32.42L2750.43,-33.43L2751.91,-34.28L2753.46,-34.97L2755.07,-35.47L2756.73,-35.80L2758.41,-35.94L2760.09,-35.89L2761.76,-35.65L2763.40,-35.23L2764.99,-34.64L2766.50,-33.86L2767.93,-32.93L2769.26,-31.84L2770.47,-30.60L2771.54,-29.24L2772.48,-27.77L2773.26,-26.21L2773.87,-24.56L2774.32,-22.86L2774.59,-21.11L2774.69,-19.35L2774.60,-17.58L2774.34,-15.84L2773.90,-14.13L2773.30,-12.48L2772.53,-10.91L2771.60,-9.43L2770.53,-8.06L2769.33,-6.82L2768.01,-5.73L2766.59,-4.78L2765.08,-4.00L2763.49,-3.39L2761.86,-2.96L2760.19,-2.71L2758.51,-2.65L2756.83,-2.78L2755.17,-3.10L2753.55,-3.59L2751.99,-4.27L2750.51,-5.11L2749.13,-6.12L2747.85,-7.27L2746.69,-8.56L2745.68,-9.97L2744.81,-11.48" stroke-width="5.3"/>
</g>
</g>
<g fill="none" stroke="#231f20" stroke-linecap="butt" stroke-linejoin="miter">
<line x1="449.4" y1="257.4" x2="449.4" y2="1388.0" stroke-width="4.5" stroke-dasharray="62.5 31 16 31.5" stroke-dashoffset="30.0"/>
<path d="M410.8,339.1 A38.6,38.6 0 0 1 488.0,339.1" stroke-width="8.5" />
<path d="M392.5,406.3 V344.5 H505.7 V406.3" stroke-width="8.5" />
<path d="M265.6,534.5 V428.5 L287.8,406.3 H610 L632.6,428.5 V534.5" stroke-width="8.5" />
<path d="M313.5,534.5 V519.8 H356.5 V534.5" stroke-width="8.5" />
<path d="M257.5,534.5 H637.4 V1275.7 H257.5 Z" stroke-width="8.5" stroke-linejoin="miter"/>
<path d="M265.6,1275.7 L267.5,1366.5 H630 L632.7,1275.7" stroke-width="8.5" />
<path d="M290,1366.5 L320,1306.4 L348.4,1366.5" stroke-width="8.5" stroke-linejoin="miter"/>
<circle cx="449.4" cy="750.5" r="76.5" stroke-width="9"/>
<path d="M360.1,767.9 A91,91 0 1 1 417.1,835.6" stroke-width="4.5"/>
<line x1="340.0" y1="750.5" x2="363.0" y2="750.5" stroke-width="4.5"/>
<line x1="396.6" y1="750.5" x2="409.8" y2="750.5" stroke-width="4.5"/>
<line x1="433.0" y1="750.5" x2="482.0" y2="750.5" stroke-width="4.5"/>
<line x1="504.0" y1="750.5" x2="517.0" y2="750.5" stroke-width="4.5"/>
<line x1="541.7" y1="750.5" x2="572.5" y2="750.5" stroke-width="4.5"/>
<circle cx="449.4" cy="1074.5" r="76.5" stroke-width="9"/>
<path d="M360.4,1093.4 A91,91 0 1 1 416.8,1159.5" stroke-width="4.5"/>
<line x1="336.5" y1="1074.5" x2="367.0" y2="1074.5" stroke-width="4.5"/>
<line x1="391.6" y1="1074.5" x2="405.0" y2="1074.5" stroke-width="4.5"/>
<line x1="426.2" y1="1074.5" x2="472.7" y2="1074.5" stroke-width="4.5"/>
<line x1="495.7" y1="1074.5" x2="507.4" y2="1074.5" stroke-width="4.5"/>
<line x1="529.5" y1="1074.5" x2="562.7" y2="1074.5" stroke-width="4.5"/>
<circle cx="308.1" cy="843.5" r="31.2" stroke-width="8.5"/>
<path d="M257.5,793 H308.1 A51,51 0 0 1 308.1,895.0 H257.5" stroke-width="8.5" />
<line x1="302.0" y1="844.0" x2="315.6" y2="844.0" stroke-width="3.8"/>
<line x1="308.8" y1="844.0" x2="308.8" y2="856.6" stroke-width="3.8"/>
<line x1="243.4" y1="843.5" x2="271.6" y2="843.5" stroke-width="4.5"/>
<line x1="342.7" y1="843.5" x2="374.9" y2="843.5" stroke-width="4.5"/>
<line x1="308.1" y1="774.0" x2="308.1" y2="808.5" stroke-width="4.5"/>
<line x1="308.1" y1="888.2" x2="308.1" y2="922.0" stroke-width="4.5"/>
<circle cx="590.2" cy="984.0" r="30.6" stroke-width="8.5"/>
<path d="M637.4,932.5 H590.2 A52,52 0 0 0 590.2,1038 H637.4" stroke-width="8.5" />
<line x1="585.2" y1="984.0" x2="601.0" y2="984.0" stroke-width="3.8"/>
<line x1="593.0" y1="976.6" x2="593.0" y2="990.1" stroke-width="3.8"/>
<line x1="520.9" y1="984.0" x2="555.9" y2="984.0" stroke-width="4.5"/>
<line x1="631.5" y1="984.0" x2="665.3" y2="984.0" stroke-width="4.5"/>
<line x1="590.2" y1="914.1" x2="590.2" y2="947.0" stroke-width="4.5"/>
<line x1="590.2" y1="1019.5" x2="590.2" y2="1053.3" stroke-width="4.5"/>
<line x1="99.0" y1="843.5" x2="224.7" y2="843.5" stroke-width="4.5"/>
<line x1="100.0" y1="984.0" x2="500.3" y2="984.0" stroke-width="4.5"/>
<line x1="591.2" y1="752.5" x2="815.0" y2="752.5" stroke-width="4.5"/>
<line x1="579.0" y1="1076.5" x2="815.0" y2="1076.5" stroke-width="4.5"/>
<line x1="100.0" y1="1366.5" x2="248.0" y2="1366.5" stroke-width="4.5"/>
<line x1="649.0" y1="1366.5" x2="815.0" y2="1366.5" stroke-width="4.5"/>
<line x1="305.4" y1="942.3" x2="305.4" y2="1543.0" stroke-width="4.5"/>
<line x1="589.4" y1="1076.5" x2="589.4" y2="1543.0" stroke-width="4.5"/>
<line x1="118.5" y1="615.0" x2="118.5" y2="1366.5" stroke-width="4.5"/>
<path d="M118.5,842.3 L128.3,785.3 L108.7,785.3Z" fill="#231f20" stroke="none"/>
<path d="M118.5,984.0 L108.7,1041.0 L128.3,1041.0Z" fill="#231f20" stroke="none"/>
<path d="M118.5,1366.5 L128.3,1309.5 L108.7,1309.5Z" fill="#231f20" stroke="none"/>
<line x1="795.5" y1="752.5" x2="795.5" y2="1365.5" stroke-width="4.5"/>
<path d="M795.5,752.5 L785.7,809.5 L805.3,809.5Z" fill="#231f20" stroke="none"/>
<path d="M795.5,1076.5 L805.3,1019.5 L785.7,1019.5Z" fill="#231f20" stroke="none"/>
<path d="M795.5,1076.5 L785.7,1133.5 L805.3,1133.5Z" fill="#231f20" stroke="none"/>
<path d="M795.5,1365.5 L805.3,1308.5 L785.7,1308.5Z" fill="#231f20" stroke="none"/>
<line x1="305.4" y1="1525.5" x2="589.5" y2="1525.5" stroke-width="4.5"/>
<path d="M305.4,1525.5 L362.4,1535.3 L362.4,1515.7Z" fill="#231f20" stroke="none"/>
<path d="M589.5,1525.5 L532.5,1515.7 L532.5,1535.3Z" fill="#231f20" stroke="none"/>
<path d="M94.2,34 V397 L297,809" stroke-width="4.5" stroke-linejoin="miter"/>
<path d="M297.0,809.0 L282.4,759.4 L266.6,767.1Z" fill="#231f20" stroke="none"/>
<path d="M797.5,0 V395 L493.5,666" stroke-width="4.5" stroke-linejoin="miter"/>
<path d="M493.5,666.0 L537.4,638.6 L525.7,625.5Z" fill="#231f20" stroke="none"/>
<line x1="1463.6" y1="264.0" x2="1463.6" y2="1399.2" stroke-width="4.5" stroke-dasharray="63 31 17 30.4" stroke-dashoffset="29.7"/>
<path d="M1425.1,340 A38.5,38.5 0 0 1 1502.1,340" stroke-width="8.5" />
<path d="M1404.7,408.4 V345.6 H1517.5 V408.4" stroke-width="8.5" />
<path d="M1224.4,535.5 V408.4 H1698.5 V535.5" stroke-width="8.5" />
<line x1="1224.4" y1="429.4" x2="1698.5" y2="429.4" stroke-width="8.5"/>
<path d="M1219.7,535.5 H1705 V1277 H1219.7 Z" stroke-width="8.5" />
<path d="M1222.3,1277.5 L1224.4,1368.5 H1699.7 L1701.8,1277.5" stroke-width="8.5" />
<path d="M1219.7,936.5 H1267.5 V1039.2 H1219.7" stroke-width="8.5" />
<path d="M1318.6,950.7 H1573.1 V1025.4 H1318.6 Z" stroke-width="8.5" />
<circle cx="1607.0" cy="774.0" r="31.0" stroke-width="8.5"/>
<line x1="1600.1" y1="774.6" x2="1615.9" y2="774.6" stroke-width="4.6"/>
<line x1="1607.5" y1="764.4" x2="1607.5" y2="781.2" stroke-width="4.6"/>
<line x1="1537.6" y1="774.0" x2="1572.0" y2="774.0" stroke-width="4.5"/>
<line x1="1645.4" y1="774.0" x2="1678.9" y2="774.0" stroke-width="4.5"/>
<line x1="1694.0" y1="774.0" x2="1885.0" y2="774.0" stroke-width="4.5"/>
<circle cx="1607.0" cy="1056.0" r="31.0" stroke-width="8.5"/>
<line x1="1600.1" y1="1056.6" x2="1615.9" y2="1056.6" stroke-width="4.6"/>
<line x1="1607.5" y1="1046.4" x2="1607.5" y2="1063.2" stroke-width="4.6"/>
<line x1="1537.6" y1="1056.0" x2="1572.0" y2="1056.0" stroke-width="4.5"/>
<line x1="1645.4" y1="1056.0" x2="1678.9" y2="1056.0" stroke-width="4.5"/>
<line x1="1694.0" y1="1056.0" x2="1885.0" y2="1056.0" stroke-width="4.5"/>
<line x1="1607.2" y1="698.7" x2="1607.2" y2="731.7" stroke-width="4.5"/>
<line x1="1607.2" y1="810.5" x2="1607.2" y2="874.6" stroke-width="4.5"/>
<line x1="1607.2" y1="905.5" x2="1607.2" y2="921.3" stroke-width="4.5"/>
<line x1="1607.2" y1="953.1" x2="1607.2" y2="1016.5" stroke-width="4.5"/>
<line x1="1607.2" y1="1096.0" x2="1607.2" y2="1129.0" stroke-width="4.5"/>
<line x1="1607.2" y1="1147.4" x2="1607.2" y2="1544.0" stroke-width="4.5"/>
<line x1="1022.5" y1="97.5" x2="1022.5" y2="572.0" stroke-width="4.5"/>
<path d="M1022.5,302.5 L1034.5,226.5 L1010.5,226.5Z" fill="#231f20" stroke="none"/>
<path d="M1022.5,374.0 L1010.5,450.0 L1034.5,450.0Z" fill="#231f20" stroke="none"/>
<circle cx="1022.5" cy="345" r="10" fill="#000" stroke="none"/>
<line x1="995.0" y1="302.5" x2="1421.0" y2="302.5" stroke-width="4.5"/>
<line x1="1475.0" y1="302.5" x2="2090.0" y2="302.5" stroke-width="4.5"/>
<line x1="995.0" y1="345.0" x2="1397.0" y2="345.0" stroke-width="4.5"/>
<line x1="995.0" y1="374.0" x2="1397.0" y2="374.0" stroke-width="4.5"/>
<line x1="1404.0" y1="142.5" x2="1404.0" y2="325.0" stroke-width="4.5"/>
<line x1="1517.5" y1="142.5" x2="1517.5" y2="325.0" stroke-width="4.5"/>
<line x1="1291.0" y1="161.0" x2="1632.0" y2="161.0" stroke-width="4.5"/>
<path d="M1404.0,161.0 L1347.0,151.2 L1347.0,170.8Z" fill="#231f20" stroke="none"/>
<path d="M1517.5,161.0 L1574.5,170.8 L1574.5,151.2Z" fill="#231f20" stroke="none"/>
<line x1="1865.0" y1="774.0" x2="1865.0" y2="1368.4" stroke-width="4.5"/>
<path d="M1865.0,774.0 L1855.2,831.0 L1874.8,831.0Z" fill="#231f20" stroke="none"/>
<path d="M1865.0,1056.0 L1874.8,999.0 L1855.2,999.0Z" fill="#231f20" stroke="none"/>
<path d="M1865.0,1056.0 L1855.2,1113.0 L1874.8,1113.0Z" fill="#231f20" stroke="none"/>
<path d="M1865.0,1368.4 L1874.8,1311.4 L1855.2,1311.4Z" fill="#231f20" stroke="none"/>
<line x1="1718.3" y1="1368.4" x2="2090.8" y2="1368.4" stroke-width="4.5"/>
<line x1="2071.5" y1="302.5" x2="2071.5" y2="1368.4" stroke-width="4.5"/>
<path d="M2071.5,302.5 L2061.7,359.5 L2081.3,359.5Z" fill="#231f20" stroke="none"/>
<path d="M2071.5,1368.4 L2081.3,1311.4 L2061.7,1311.4Z" fill="#231f20" stroke="none"/>
<line x1="1394.0" y1="1526.5" x2="1817.5" y2="1526.5" stroke-width="4.5"/>
<path d="M1606.0,1526.5 L1549.0,1516.7 L1549.0,1536.3Z" fill="#231f20" stroke="none"/>
<path d="M1704.0,1526.5 L1761.0,1536.3 L1761.0,1516.7Z" fill="#231f20" stroke="none"/>
<line x1="1220.0" y1="1664.0" x2="1704.0" y2="1664.0" stroke-width="4.5"/>
<path d="M1220.0,1664.0 L1277.0,1673.8 L1277.0,1654.2Z" fill="#231f20" stroke="none"/>
<path d="M1704.0,1664.0 L1647.0,1654.2 L1647.0,1673.8Z" fill="#231f20" stroke="none"/>
<line x1="1219.5" y1="1292.0" x2="1219.5" y2="1682.0" stroke-width="4.5"/>
<line x1="1704.2" y1="1292.0" x2="1704.2" y2="1682.0" stroke-width="4.5"/>
<path d="M1958.5,211 V574 L1640,757.5" stroke-width="4.5" stroke-linejoin="miter"/>
<path d="M1640.0,757.5 L1689.0,740.4 L1679.4,723.7Z" fill="#231f20" stroke="none"/>
<line x1="2700.3" y1="268.5" x2="2700.3" y2="1400.5" stroke-width="4.5" stroke-dasharray="62.5 31 16 31.5" stroke-dashoffset="29.5"/>
<path d="M2661.8,339.5 A38.5,38.5 0 0 1 2738.8,339.5" stroke-width="8.5" />
<path d="M2642.5,408.5 V345.8 H2755.6 V408.5" stroke-width="8.5" />
<path d="M2515.6,535.7 V429.5 L2537.8,408.5 H2860.5 L2882.1,429.5 V535.7" stroke-width="8.5" />
<path d="M2510.4,535.7 H2887.4 V1277.4 H2510.4 Z" stroke-width="8.5" />
<path d="M2515.5,1277.4 L2518.2,1368.3 H2880.5 L2883,1277.4" stroke-width="8.5" />
<path d="M2541.7,1368.3 L2570.7,1303 L2600,1368.3" stroke-width="9" stroke-linejoin="miter"/>
<circle cx="2757.8" cy="669.0" r="57.4" stroke-width="9.6"/>
<path d="M2691.6,681.9 A67.5,67.5 0 1 1 2734.8,732.4" stroke-width="4.5"/>
<circle cx="2700.3" cy="912.8" r="76.3" stroke-width="9.6"/>
<path d="M2612.6,931.9 A89.7,89.7 0 1 1 2668.7,997.3" stroke-width="4.5"/>
<circle cx="2642.0" cy="1162.1" r="57.0" stroke-width="9.6"/>
<path d="M2576.2,1174.0 A68,68 0 1 1 2618.6,1224.5" stroke-width="4.5"/>
<circle cx="2842.0" cy="844.2" r="31.0" stroke-width="8.5"/>
<circle cx="2559.2" cy="985.3" r="31.0" stroke-width="8.5"/>
<line x1="2757.9" y1="550.5" x2="2757.9" y2="780.0" stroke-width="4.5"/>
<line x1="2649.5" y1="666.3" x2="2871.5" y2="666.3" stroke-width="4.5"/>
<line x1="2586.9" y1="913.3" x2="2620.0" y2="913.3" stroke-width="4.5"/>
<line x1="2643.1" y1="913.3" x2="2655.0" y2="913.3" stroke-width="4.5"/>
<line x1="2676.7" y1="913.3" x2="2723.1" y2="913.3" stroke-width="4.5"/>
<line x1="2744.8" y1="913.3" x2="2756.7" y2="913.3" stroke-width="4.5"/>
<line x1="2781.3" y1="913.3" x2="2813.0" y2="913.3" stroke-width="4.5"/>
<line x1="2538.0" y1="1160.4" x2="2754.2" y2="1160.4" stroke-width="4.5"/>
<line x1="2643.3" y1="1053.2" x2="2643.3" y2="1544.0" stroke-width="4.5"/>
<line x1="2756.4" y1="798.8" x2="2756.4" y2="1544.0" stroke-width="4.5"/>
<line x1="2796.2" y1="844.2" x2="2829.7" y2="844.2" stroke-width="4.5"/>
<line x1="2838.6" y1="844.2" x2="2844.5" y2="844.2" stroke-width="4.5"/>
<line x1="2853.4" y1="844.2" x2="2887.0" y2="844.2" stroke-width="4.5"/>
<line x1="2842.0" y1="794.2" x2="2842.0" y2="829.4" stroke-width="4.5"/>
<line x1="2842.0" y1="840.2" x2="2842.0" y2="848.1" stroke-width="4.5"/>
<line x1="2842.0" y1="858.0" x2="2842.0" y2="891.5" stroke-width="4.5"/>
<line x1="2515.8" y1="985.3" x2="2550.3" y2="985.3" stroke-width="4.5"/>
<line x1="2555.5" y1="985.3" x2="2562.5" y2="985.3" stroke-width="4.5"/>
<line x1="2572.0" y1="985.3" x2="2605.6" y2="985.3" stroke-width="4.5"/>
<line x1="2559.2" y1="936.0" x2="2559.2" y2="970.5" stroke-width="4.5"/>
<line x1="2559.2" y1="981.5" x2="2559.2" y2="989.5" stroke-width="4.5"/>
<line x1="2559.2" y1="995.2" x2="2559.2" y2="1028.8" stroke-width="4.5"/>
<line x1="2323.5" y1="408.5" x2="2323.5" y2="1368.0" stroke-width="4.5"/>
<path d="M2323.5,408.5 L2313.7,465.5 L2333.3,465.5Z" fill="#231f20" stroke="none"/>
<path d="M2323.5,1368.0 L2333.3,1311.0 L2313.7,1311.0Z" fill="#231f20" stroke="none"/>
<line x1="2304.0" y1="408.5" x2="2518.5" y2="408.5" stroke-width="4.5"/>
<line x1="2304.0" y1="1368.4" x2="2499.0" y2="1368.4" stroke-width="4.5"/>
<line x1="2899.3" y1="1368.4" x2="3068.0" y2="1368.4" stroke-width="4.5"/>
<line x1="3048.5" y1="667.5" x2="3048.5" y2="1368.4" stroke-width="4.5"/>
<path d="M3048.5,667.5 L3038.7,724.5 L3058.3,724.5Z" fill="#231f20" stroke="none"/>
<path d="M3048.5,1161.5 L3058.3,1104.5 L3038.7,1104.5Z" fill="#231f20" stroke="none"/>
<path d="M3048.5,1161.5 L3038.7,1218.5 L3058.3,1218.5Z" fill="#231f20" stroke="none"/>
<path d="M3048.5,1368.4 L3058.3,1311.4 L3038.7,1311.4Z" fill="#231f20" stroke="none"/>
<line x1="2891.6" y1="667.5" x2="3067.5" y2="667.5" stroke-width="4.5"/>
<line x1="2770.1" y1="1161.5" x2="3067.5" y2="1161.5" stroke-width="4.5"/>
<line x1="2524.0" y1="1526.5" x2="2868.0" y2="1526.5" stroke-width="4.5"/>
<path d="M2642.0,1526.5 L2585.0,1516.7 L2585.0,1536.3Z" fill="#231f20" stroke="none"/>
<path d="M2755.5,1526.5 L2812.5,1536.3 L2812.5,1516.7Z" fill="#231f20" stroke="none"/>
<line x1="2511.0" y1="1678.0" x2="2887.0" y2="1678.0" stroke-width="4.5"/>
<path d="M2511.0,1678.0 L2568.0,1687.8 L2568.0,1668.2Z" fill="#231f20" stroke="none"/>
<path d="M2887.0,1678.0 L2830.0,1668.2 L2830.0,1687.8Z" fill="#231f20" stroke="none"/>
<line x1="2510.6" y1="1293.0" x2="2510.6" y2="1697.0" stroke-width="4.5"/>
<line x1="2887.4" y1="1293.0" x2="2887.4" y2="1697.0" stroke-width="4.5"/>
<path d="M3079.5,91 V506.5 L2835.5,611" stroke-width="4.5" stroke-linejoin="miter"/>
<path d="M2835.5,611.0 L2889.3,599.4 L2881.0,580.1Z" fill="#231f20" stroke="none"/>
</g>
</svg>
</body></html>
